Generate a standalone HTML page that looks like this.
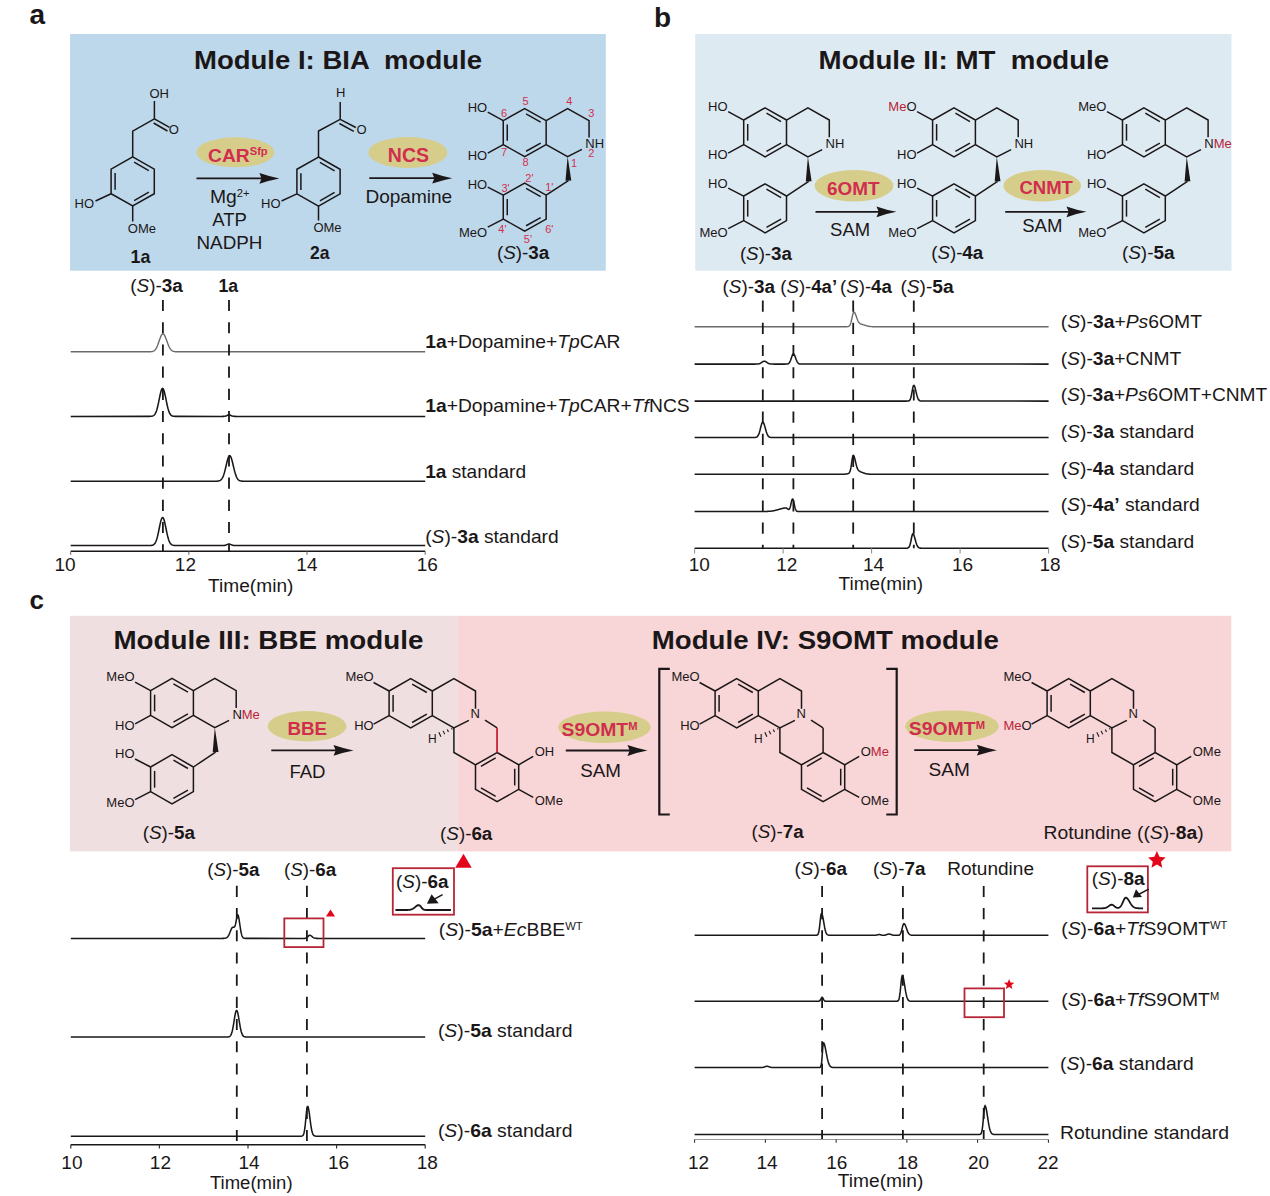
<!DOCTYPE html>
<html><head><meta charset="utf-8"><style>
html,body{margin:0;padding:0;background:#fff;}
svg{display:block;} text{white-space:pre;}
</style></head><body>
<svg width="1270" height="1196" viewBox="0 0 1270 1196" font-family="'Liberation Sans', sans-serif">
<rect width="1270" height="1196" fill="#ffffff"/>
<rect x="70" y="34" width="535.8" height="236.7" fill="#bed8eb"/>
<rect x="695.2" y="34" width="536.3" height="236.7" fill="#deeaf2"/>
<rect x="70" y="615.8" width="387.3" height="235.6" fill="#f0dfe1"/>
<rect x="457.3" y="615.8" width="774" height="235.6" fill="#f8d5d7"/>
<text x="29.5" y="24.0" font-size="28" text-anchor="start" fill="#1b1718" ><tspan font-weight="bold">a</tspan></text>
<text x="654.0" y="26.5" font-size="28" text-anchor="start" fill="#1b1718" ><tspan font-weight="bold">b</tspan></text>
<text x="29.5" y="609.0" font-size="26" text-anchor="start" fill="#1b1718" ><tspan font-weight="bold">c</tspan></text>
<text x="194.0" y="68.5" font-size="26" text-anchor="start" fill="#1b1718" textLength="288.0" lengthAdjust="spacingAndGlyphs" ><tspan font-weight="bold">Module I: BIA  module</tspan></text>
<text x="818.6" y="68.6" font-size="26" text-anchor="start" fill="#1b1718" textLength="290.6" lengthAdjust="spacingAndGlyphs" ><tspan font-weight="bold">Module II: MT  module</tspan></text>
<text x="113.4" y="648.6" font-size="26" text-anchor="start" fill="#1b1718" textLength="310.0" lengthAdjust="spacingAndGlyphs" ><tspan font-weight="bold">Module III: BBE module</tspan></text>
<text x="651.8" y="649.0" font-size="26" text-anchor="start" fill="#1b1718" textLength="347.0" lengthAdjust="spacingAndGlyphs" ><tspan font-weight="bold">Module IV: S9OMT module</tspan></text>
<polygon points="132.70,156.80 154.30,169.10 154.30,193.70 132.70,206.00 111.10,193.70 111.10,169.10" fill="none" stroke="#1b1718" stroke-width="1.5" stroke-linejoin="miter"/>
<line x1="115.10" y1="173.04" x2="115.10" y2="189.76" stroke="#1b1718" stroke-width="1.5" />
<line x1="134.14" y1="162.22" x2="148.82" y2="170.58" stroke="#1b1718" stroke-width="1.5" />
<line x1="148.82" y1="192.22" x2="134.14" y2="200.58" stroke="#1b1718" stroke-width="1.5" />
<polyline points="132.70,156.80 132.70,131.20 154.40,118.80 154.40,101.00" fill="none" stroke="#1b1718" stroke-width="1.5" stroke-linejoin="miter" />
<line x1="154.40" y1="118.80" x2="169.50" y2="127.30" stroke="#1b1718" stroke-width="1.5" />
<line x1="153.60" y1="123.00" x2="167.50" y2="131.00" stroke="#1b1718" stroke-width="1.5" />
<text x="149.5" y="97.5" font-size="13" text-anchor="start" fill="#1b1718" ><tspan >OH</tspan></text>
<text x="168.8" y="134.2" font-size="13" text-anchor="start" fill="#1b1718" ><tspan >O</tspan></text>
<line x1="111.10" y1="193.70" x2="95.50" y2="201.00" stroke="#1b1718" stroke-width="1.5" />
<text x="74.5" y="208.2" font-size="13" text-anchor="start" fill="#1b1718" ><tspan >HO</tspan></text>
<line x1="132.70" y1="206.00" x2="132.70" y2="221.50" stroke="#1b1718" stroke-width="1.5" />
<text x="127.8" y="232.6" font-size="13" text-anchor="start" fill="#1b1718" ><tspan >OMe</tspan></text>
<text x="130.6" y="263.0" font-size="18.5" text-anchor="start" fill="#1b1718" textLength="19.8" lengthAdjust="spacingAndGlyphs" ><tspan font-weight="bold">1a</tspan></text>
<line x1="196.50" y1="178.40" x2="263.40" y2="178.40" stroke="#1b1718" stroke-width="1.8" />
<path d="M279.40,178.40 Q270.40,176.80 259.40,173.00 L261.60,178.40 L259.40,183.80 Q270.40,180.00 279.40,178.40 Z" fill="#1b1718"/>
<ellipse cx="235.4" cy="152.3" rx="39" ry="15" fill="#d7cd8a"/>
<text x="208.0" y="161.8" font-size="19" text-anchor="start" fill="#1b1718" textLength="59.7" lengthAdjust="spacingAndGlyphs" ><tspan font-weight="bold" fill="#d02d50">CAR</tspan><tspan font-weight="bold" fill="#d02d50" font-size="11.0" dy="-6.5">Sfp</tspan></text>
<text x="210.0" y="203.3" font-size="18.5" text-anchor="start" fill="#1b1718" textLength="39.6" lengthAdjust="spacingAndGlyphs" ><tspan >Mg</tspan><tspan font-size="10.7" dy="-6.3">2+</tspan></text>
<text x="229.5" y="225.6" font-size="18.5" text-anchor="middle" fill="#1b1718" ><tspan >ATP</tspan></text>
<text x="196.5" y="249.0" font-size="18.5" text-anchor="start" fill="#1b1718" textLength="65.9" lengthAdjust="spacingAndGlyphs" ><tspan >NADPH</tspan></text>
<polygon points="318.50,157.00 340.10,169.30 340.10,193.90 318.50,206.20 296.90,193.90 296.90,169.30" fill="none" stroke="#1b1718" stroke-width="1.5" stroke-linejoin="miter"/>
<line x1="300.90" y1="173.24" x2="300.90" y2="189.96" stroke="#1b1718" stroke-width="1.5" />
<line x1="319.94" y1="162.42" x2="334.62" y2="170.78" stroke="#1b1718" stroke-width="1.5" />
<line x1="334.62" y1="192.42" x2="319.94" y2="200.78" stroke="#1b1718" stroke-width="1.5" />
<polyline points="318.50,157.00 318.50,131.00 340.20,119.30 340.20,102.00" fill="none" stroke="#1b1718" stroke-width="1.5" stroke-linejoin="miter" />
<line x1="340.20" y1="119.30" x2="355.80" y2="127.50" stroke="#1b1718" stroke-width="1.5" />
<line x1="339.40" y1="123.50" x2="353.80" y2="131.30" stroke="#1b1718" stroke-width="1.5" />
<text x="336.0" y="96.6" font-size="13" text-anchor="start" fill="#1b1718" ><tspan >H</tspan></text>
<text x="356.5" y="134.2" font-size="13" text-anchor="start" fill="#1b1718" ><tspan >O</tspan></text>
<line x1="296.90" y1="193.90" x2="281.50" y2="201.00" stroke="#1b1718" stroke-width="1.5" />
<text x="261.0" y="208.0" font-size="13" text-anchor="start" fill="#1b1718" ><tspan >HO</tspan></text>
<line x1="318.50" y1="206.20" x2="318.50" y2="220.50" stroke="#1b1718" stroke-width="1.5" />
<text x="313.4" y="232.4" font-size="13" text-anchor="start" fill="#1b1718" ><tspan >OMe</tspan></text>
<text x="310.0" y="258.8" font-size="18.5" text-anchor="start" fill="#1b1718" textLength="19.5" lengthAdjust="spacingAndGlyphs" ><tspan font-weight="bold">2a</tspan></text>
<line x1="369.30" y1="178.20" x2="436.20" y2="178.20" stroke="#1b1718" stroke-width="1.8" />
<path d="M452.20,178.20 Q443.20,176.60 432.20,172.80 L434.40,178.20 L432.20,183.60 Q443.20,179.80 452.20,178.20 Z" fill="#1b1718"/>
<ellipse cx="407.9" cy="152.5" rx="39.5" ry="15.5" fill="#d7cd8a"/>
<text x="387.8" y="162.1" font-size="19.5" text-anchor="start" fill="#1b1718" textLength="41.2" lengthAdjust="spacingAndGlyphs" ><tspan font-weight="bold" fill="#d02d50">NCS</tspan></text>
<text x="365.4" y="203.2" font-size="18.5" text-anchor="start" fill="#1b1718" textLength="86.8" lengthAdjust="spacingAndGlyphs" ><tspan >Dopamine</tspan></text>
<polygon points="524.70,108.60 546.15,120.60 546.15,144.60 524.70,156.60 503.25,144.60 503.25,120.60" fill="none" stroke="#1b1718" stroke-width="1.5" stroke-linejoin="miter"/>
<line x1="507.25" y1="124.44" x2="507.25" y2="140.76" stroke="#1b1718" stroke-width="1.5" />
<line x1="526.08" y1="113.96" x2="540.67" y2="122.12" stroke="#1b1718" stroke-width="1.5" />
<line x1="540.67" y1="143.08" x2="526.08" y2="151.24" stroke="#1b1718" stroke-width="1.5" />
<polyline points="546.15,120.60 567.60,108.60 589.05,120.60 589.05,137.40" fill="none" stroke="#1b1718" stroke-width="1.5" stroke-linejoin="miter" />
<polyline points="546.15,144.60 567.60,156.60 581.90,149.40" fill="none" stroke="#1b1718" stroke-width="1.5" stroke-linejoin="miter" />
<polygon points="567.60,156.60 565.50,180.70 571.30,180.50" fill="#1b1718" />
<polygon points="524.70,183.10 546.15,195.10 546.15,219.10 524.70,231.10 503.25,219.10 503.25,195.10" fill="none" stroke="#1b1718" stroke-width="1.5" stroke-linejoin="miter"/>
<line x1="568.40" y1="180.60" x2="546.15" y2="195.10" stroke="#1b1718" stroke-width="1.5" />
<line x1="507.25" y1="198.94" x2="507.25" y2="215.26" stroke="#1b1718" stroke-width="1.5" />
<line x1="526.08" y1="188.46" x2="540.67" y2="196.62" stroke="#1b1718" stroke-width="1.5" />
<line x1="540.67" y1="217.58" x2="526.08" y2="225.74" stroke="#1b1718" stroke-width="1.5" />
<line x1="503.25" y1="120.60" x2="487.75" y2="112.10" stroke="#1b1718" stroke-width="1.5" />
<line x1="503.25" y1="144.60" x2="487.75" y2="153.10" stroke="#1b1718" stroke-width="1.5" />
<line x1="503.25" y1="195.10" x2="487.75" y2="187.10" stroke="#1b1718" stroke-width="1.5" />
<line x1="503.25" y1="219.10" x2="487.75" y2="227.10" stroke="#1b1718" stroke-width="1.5" />
<text x="487.2" y="111.6" font-size="13" text-anchor="end" fill="#1b1718" ><tspan >HO</tspan></text>
<text x="487.2" y="160.1" font-size="13" text-anchor="end" fill="#1b1718" ><tspan >HO</tspan></text>
<text x="487.2" y="188.6" font-size="13" text-anchor="end" fill="#1b1718" ><tspan >HO</tspan></text>
<text x="487.2" y="237.4" font-size="13" text-anchor="end" fill="#1b1718" ><tspan >MeO</tspan></text>
<text x="585.3" y="147.8" font-size="13" text-anchor="start" fill="#1b1718" ><tspan >NH</tspan></text>
<text x="496.9" y="258.7" font-size="17.5" text-anchor="start" fill="#1b1718" textLength="52.4" lengthAdjust="spacingAndGlyphs" ><tspan >(</tspan><tspan font-style="italic">S</tspan><tspan >)-</tspan><tspan font-weight="bold">3a</tspan></text>
<text x="525.5" y="104.6" font-size="11" text-anchor="middle" fill="#d22f4e" ><tspan >5</tspan></text>
<text x="569.2" y="104.6" font-size="11" text-anchor="middle" fill="#d22f4e" ><tspan >4</tspan></text>
<text x="591.4" y="117.3" font-size="11" text-anchor="middle" fill="#d22f4e" ><tspan >3</tspan></text>
<text x="504.0" y="116.5" font-size="11" text-anchor="middle" fill="#d22f4e" ><tspan >6</tspan></text>
<text x="504.0" y="156.3" font-size="11" text-anchor="middle" fill="#d22f4e" ><tspan >7</tspan></text>
<text x="525.5" y="165.8" font-size="11" text-anchor="middle" fill="#d22f4e" ><tspan >8</tspan></text>
<text x="591.4" y="157.0" font-size="11" text-anchor="middle" fill="#d22f4e" ><tspan >2</tspan></text>
<text x="574.0" y="166.6" font-size="11" text-anchor="middle" fill="#d22f4e" ><tspan >1</tspan></text>
<text x="529.4" y="181.7" font-size="11" text-anchor="middle" fill="#d22f4e" ><tspan >2'</tspan></text>
<text x="549.3" y="191.2" font-size="11" text-anchor="middle" fill="#d22f4e" ><tspan >1'</tspan></text>
<text x="505.6" y="192.0" font-size="11" text-anchor="middle" fill="#d22f4e" ><tspan >3'</tspan></text>
<text x="549.3" y="232.5" font-size="11" text-anchor="middle" fill="#d22f4e" ><tspan >6'</tspan></text>
<text x="502.4" y="233.3" font-size="11" text-anchor="middle" fill="#d22f4e" ><tspan >4'</tspan></text>
<text x="527.9" y="242.9" font-size="11" text-anchor="middle" fill="#d22f4e" ><tspan >5'</tspan></text>
<polygon points="765.10,107.80 786.50,120.05 786.50,144.55 765.10,156.80 743.70,144.55 743.70,120.05" fill="none" stroke="#1b1718" stroke-width="1.5" stroke-linejoin="miter"/>
<line x1="747.70" y1="123.97" x2="747.70" y2="140.63" stroke="#1b1718" stroke-width="1.5" />
<line x1="766.51" y1="113.22" x2="781.06" y2="121.55" stroke="#1b1718" stroke-width="1.5" />
<line x1="781.06" y1="143.05" x2="766.51" y2="151.38" stroke="#1b1718" stroke-width="1.5" />
<polyline points="786.50,120.05 807.90,107.80 829.30,120.05 829.30,137.20" fill="none" stroke="#1b1718" stroke-width="1.5" stroke-linejoin="miter" />
<polyline points="786.50,144.55 807.90,156.80 822.20,149.60" fill="none" stroke="#1b1718" stroke-width="1.5" stroke-linejoin="miter" />
<polygon points="807.90,156.80 805.80,181.39 811.60,181.21" fill="#1b1718" />
<polygon points="765.10,183.80 786.50,196.05 786.50,220.55 765.10,232.80 743.70,220.55 743.70,196.05" fill="none" stroke="#1b1718" stroke-width="1.5" stroke-linejoin="miter"/>
<line x1="808.70" y1="181.30" x2="786.50" y2="196.05" stroke="#1b1718" stroke-width="1.5" />
<line x1="747.70" y1="199.97" x2="747.70" y2="216.63" stroke="#1b1718" stroke-width="1.5" />
<line x1="766.51" y1="189.22" x2="781.06" y2="197.55" stroke="#1b1718" stroke-width="1.5" />
<line x1="781.06" y1="219.05" x2="766.51" y2="227.38" stroke="#1b1718" stroke-width="1.5" />
<line x1="743.70" y1="120.05" x2="728.20" y2="111.55" stroke="#1b1718" stroke-width="1.5" />
<line x1="743.70" y1="144.55" x2="728.20" y2="153.05" stroke="#1b1718" stroke-width="1.5" />
<line x1="743.70" y1="196.05" x2="728.20" y2="188.05" stroke="#1b1718" stroke-width="1.5" />
<line x1="743.70" y1="220.55" x2="728.20" y2="228.55" stroke="#1b1718" stroke-width="1.5" />
<text x="727.6" y="110.8" font-size="13" text-anchor="end" fill="#1b1718" ><tspan >HO</tspan></text>
<text x="727.6" y="159.3" font-size="13" text-anchor="end" fill="#1b1718" ><tspan >HO</tspan></text>
<text x="727.6" y="187.8" font-size="13" text-anchor="end" fill="#1b1718" ><tspan >HO</tspan></text>
<text x="727.6" y="236.6" font-size="13" text-anchor="end" fill="#1b1718" ><tspan >MeO</tspan></text>
<text x="825.5" y="147.8" font-size="13" text-anchor="start" fill="#1b1718" ><tspan >NH</tspan></text>
<text x="739.9" y="259.8" font-size="17.5" text-anchor="start" fill="#1b1718" textLength="52.0" lengthAdjust="spacingAndGlyphs" ><tspan >(</tspan><tspan font-style="italic">S</tspan><tspan >)-</tspan><tspan font-weight="bold">3a</tspan></text>
<polygon points="954.00,107.80 975.40,120.05 975.40,144.55 954.00,156.80 932.60,144.55 932.60,120.05" fill="none" stroke="#1b1718" stroke-width="1.5" stroke-linejoin="miter"/>
<line x1="936.60" y1="123.97" x2="936.60" y2="140.63" stroke="#1b1718" stroke-width="1.5" />
<line x1="955.41" y1="113.22" x2="969.96" y2="121.55" stroke="#1b1718" stroke-width="1.5" />
<line x1="969.96" y1="143.05" x2="955.41" y2="151.38" stroke="#1b1718" stroke-width="1.5" />
<polyline points="975.40,120.05 996.80,107.80 1018.20,120.05 1018.20,137.20" fill="none" stroke="#1b1718" stroke-width="1.5" stroke-linejoin="miter" />
<polyline points="975.40,144.55 996.80,156.80 1011.10,149.60" fill="none" stroke="#1b1718" stroke-width="1.5" stroke-linejoin="miter" />
<polygon points="996.80,156.80 994.70,181.39 1000.50,181.21" fill="#1b1718" />
<polygon points="954.00,183.80 975.40,196.05 975.40,220.55 954.00,232.80 932.60,220.55 932.60,196.05" fill="none" stroke="#1b1718" stroke-width="1.5" stroke-linejoin="miter"/>
<line x1="997.60" y1="181.30" x2="975.40" y2="196.05" stroke="#1b1718" stroke-width="1.5" />
<line x1="936.60" y1="199.97" x2="936.60" y2="216.63" stroke="#1b1718" stroke-width="1.5" />
<line x1="955.41" y1="189.22" x2="969.96" y2="197.55" stroke="#1b1718" stroke-width="1.5" />
<line x1="969.96" y1="219.05" x2="955.41" y2="227.38" stroke="#1b1718" stroke-width="1.5" />
<line x1="932.60" y1="120.05" x2="917.10" y2="111.55" stroke="#1b1718" stroke-width="1.5" />
<line x1="932.60" y1="144.55" x2="917.10" y2="153.05" stroke="#1b1718" stroke-width="1.5" />
<line x1="932.60" y1="196.05" x2="917.10" y2="188.05" stroke="#1b1718" stroke-width="1.5" />
<line x1="932.60" y1="220.55" x2="917.10" y2="228.55" stroke="#1b1718" stroke-width="1.5" />
<text x="916.5" y="110.8" font-size="13" text-anchor="end" fill="#1b1718" ><tspan fill="#b82537">Me</tspan><tspan >O</tspan></text>
<text x="916.5" y="159.3" font-size="13" text-anchor="end" fill="#1b1718" ><tspan >HO</tspan></text>
<text x="916.5" y="187.8" font-size="13" text-anchor="end" fill="#1b1718" ><tspan >HO</tspan></text>
<text x="916.5" y="236.6" font-size="13" text-anchor="end" fill="#1b1718" ><tspan >MeO</tspan></text>
<text x="1014.4" y="147.8" font-size="13" text-anchor="start" fill="#1b1718" ><tspan >NH</tspan></text>
<text x="931.2" y="259.0" font-size="17.5" text-anchor="start" fill="#1b1718" textLength="52.0" lengthAdjust="spacingAndGlyphs" ><tspan >(</tspan><tspan font-style="italic">S</tspan><tspan >)-</tspan><tspan font-weight="bold">4a</tspan></text>
<polygon points="1143.90,107.80 1165.30,120.05 1165.30,144.55 1143.90,156.80 1122.50,144.55 1122.50,120.05" fill="none" stroke="#1b1718" stroke-width="1.5" stroke-linejoin="miter"/>
<line x1="1126.50" y1="123.97" x2="1126.50" y2="140.63" stroke="#1b1718" stroke-width="1.5" />
<line x1="1145.31" y1="113.22" x2="1159.86" y2="121.55" stroke="#1b1718" stroke-width="1.5" />
<line x1="1159.86" y1="143.05" x2="1145.31" y2="151.38" stroke="#1b1718" stroke-width="1.5" />
<polyline points="1165.30,120.05 1186.70,107.80 1208.10,120.05 1208.10,137.20" fill="none" stroke="#1b1718" stroke-width="1.5" stroke-linejoin="miter" />
<polyline points="1165.30,144.55 1186.70,156.80 1201.00,149.60" fill="none" stroke="#1b1718" stroke-width="1.5" stroke-linejoin="miter" />
<polygon points="1186.70,156.80 1184.60,181.39 1190.40,181.21" fill="#1b1718" />
<polygon points="1143.90,183.80 1165.30,196.05 1165.30,220.55 1143.90,232.80 1122.50,220.55 1122.50,196.05" fill="none" stroke="#1b1718" stroke-width="1.5" stroke-linejoin="miter"/>
<line x1="1187.50" y1="181.30" x2="1165.30" y2="196.05" stroke="#1b1718" stroke-width="1.5" />
<line x1="1126.50" y1="199.97" x2="1126.50" y2="216.63" stroke="#1b1718" stroke-width="1.5" />
<line x1="1145.31" y1="189.22" x2="1159.86" y2="197.55" stroke="#1b1718" stroke-width="1.5" />
<line x1="1159.86" y1="219.05" x2="1145.31" y2="227.38" stroke="#1b1718" stroke-width="1.5" />
<line x1="1122.50" y1="120.05" x2="1107.00" y2="111.55" stroke="#1b1718" stroke-width="1.5" />
<line x1="1122.50" y1="144.55" x2="1107.00" y2="153.05" stroke="#1b1718" stroke-width="1.5" />
<line x1="1122.50" y1="196.05" x2="1107.00" y2="188.05" stroke="#1b1718" stroke-width="1.5" />
<line x1="1122.50" y1="220.55" x2="1107.00" y2="228.55" stroke="#1b1718" stroke-width="1.5" />
<text x="1106.4" y="110.8" font-size="13" text-anchor="end" fill="#1b1718" ><tspan >MeO</tspan></text>
<text x="1106.4" y="159.3" font-size="13" text-anchor="end" fill="#1b1718" ><tspan >HO</tspan></text>
<text x="1106.4" y="187.8" font-size="13" text-anchor="end" fill="#1b1718" ><tspan >HO</tspan></text>
<text x="1106.4" y="236.6" font-size="13" text-anchor="end" fill="#1b1718" ><tspan >MeO</tspan></text>
<text x="1204.3" y="147.8" font-size="13" text-anchor="start" fill="#1b1718" ><tspan >N</tspan><tspan fill="#b82537">Me</tspan></text>
<text x="1121.9" y="259.0" font-size="17.5" text-anchor="start" fill="#1b1718" textLength="52.7" lengthAdjust="spacingAndGlyphs" ><tspan >(</tspan><tspan font-style="italic">S</tspan><tspan >)-</tspan><tspan font-weight="bold">5a</tspan></text>
<ellipse cx="854" cy="185.8" rx="39.4" ry="15.7" fill="#d7cd8a"/>
<text x="827.0" y="195.2" font-size="18" text-anchor="start" fill="#1b1718" textLength="52.6" lengthAdjust="spacingAndGlyphs" ><tspan font-weight="bold" fill="#d02d50">6OMT</tspan></text>
<line x1="815.50" y1="211.80" x2="880.50" y2="211.80" stroke="#1b1718" stroke-width="1.8" />
<path d="M896.50,211.80 Q887.50,210.20 876.50,206.40 L878.70,211.80 L876.50,217.20 Q887.50,213.40 896.50,211.80 Z" fill="#1b1718"/>
<text x="830.1" y="236.2" font-size="18" text-anchor="start" fill="#1b1718" textLength="40.0" lengthAdjust="spacingAndGlyphs" ><tspan >SAM</tspan></text>
<ellipse cx="1042.2" cy="185.8" rx="38.8" ry="15.7" fill="#d7cd8a"/>
<text x="1019.4" y="193.9" font-size="18" text-anchor="start" fill="#1b1718" textLength="53.5" lengthAdjust="spacingAndGlyphs" ><tspan font-weight="bold" fill="#d02d50">CNMT</tspan></text>
<line x1="1005.20" y1="211.80" x2="1070.50" y2="211.80" stroke="#1b1718" stroke-width="1.8" />
<path d="M1086.50,211.80 Q1077.50,210.20 1066.50,206.40 L1068.70,211.80 L1066.50,217.20 Q1077.50,213.40 1086.50,211.80 Z" fill="#1b1718"/>
<text x="1022.2" y="232.2" font-size="18" text-anchor="start" fill="#1b1718" textLength="40.2" lengthAdjust="spacingAndGlyphs" ><tspan >SAM</tspan></text>
<polygon points="172.00,678.40 193.40,690.70 193.40,715.30 172.00,727.60 150.60,715.30 150.60,690.70" fill="none" stroke="#1b1718" stroke-width="1.5" stroke-linejoin="miter"/>
<line x1="154.60" y1="694.64" x2="154.60" y2="711.36" stroke="#1b1718" stroke-width="1.5" />
<line x1="173.42" y1="683.83" x2="187.97" y2="692.19" stroke="#1b1718" stroke-width="1.5" />
<line x1="187.97" y1="713.81" x2="173.42" y2="722.17" stroke="#1b1718" stroke-width="1.5" />
<polyline points="193.40,690.70 214.80,678.40 236.20,690.70 236.20,707.92" fill="none" stroke="#1b1718" stroke-width="1.5" stroke-linejoin="miter" />
<polyline points="193.40,715.30 214.80,727.60 229.10,720.40" fill="none" stroke="#1b1718" stroke-width="1.5" stroke-linejoin="miter" />
<polygon points="214.80,727.60 212.70,752.29 218.50,752.11" fill="#1b1718" />
<polygon points="172.00,754.70 193.40,767.00 193.40,791.60 172.00,803.90 150.60,791.60 150.60,767.00" fill="none" stroke="#1b1718" stroke-width="1.5" stroke-linejoin="miter"/>
<line x1="215.60" y1="752.20" x2="193.40" y2="767.00" stroke="#1b1718" stroke-width="1.5" />
<line x1="154.60" y1="770.94" x2="154.60" y2="787.66" stroke="#1b1718" stroke-width="1.5" />
<line x1="173.42" y1="760.13" x2="187.97" y2="768.49" stroke="#1b1718" stroke-width="1.5" />
<line x1="187.97" y1="790.11" x2="173.42" y2="798.47" stroke="#1b1718" stroke-width="1.5" />
<line x1="150.60" y1="690.70" x2="135.10" y2="682.20" stroke="#1b1718" stroke-width="1.5" />
<line x1="150.60" y1="715.30" x2="135.10" y2="723.80" stroke="#1b1718" stroke-width="1.5" />
<line x1="150.60" y1="767.00" x2="135.10" y2="759.00" stroke="#1b1718" stroke-width="1.5" />
<line x1="150.60" y1="791.60" x2="135.10" y2="799.60" stroke="#1b1718" stroke-width="1.5" />
<text x="134.5" y="681.4" font-size="13" text-anchor="end" fill="#1b1718" ><tspan >MeO</tspan></text>
<text x="134.5" y="729.9" font-size="13" text-anchor="end" fill="#1b1718" ><tspan >HO</tspan></text>
<text x="134.5" y="758.4" font-size="13" text-anchor="end" fill="#1b1718" ><tspan >HO</tspan></text>
<text x="134.5" y="807.2" font-size="13" text-anchor="end" fill="#1b1718" ><tspan >MeO</tspan></text>
<text x="232.4" y="718.5" font-size="13" text-anchor="start" fill="#1b1718" ><tspan >N</tspan><tspan fill="#b82537">Me</tspan></text>
<text x="142.7" y="839.0" font-size="17.5" text-anchor="start" fill="#1b1718" textLength="52.3" lengthAdjust="spacingAndGlyphs" ><tspan >(</tspan><tspan font-style="italic">S</tspan><tspan >)-</tspan><tspan font-weight="bold">5a</tspan></text>
<ellipse cx="307.1" cy="726.3" rx="39.4" ry="15.2" fill="#d7cd8a"/>
<text x="287.4" y="735.4" font-size="18" text-anchor="start" fill="#1b1718" textLength="39.8" lengthAdjust="spacingAndGlyphs" ><tspan font-weight="bold" fill="#d02d50">BBE</tspan></text>
<line x1="271.30" y1="750.40" x2="337.50" y2="750.40" stroke="#1b1718" stroke-width="1.8" />
<path d="M353.50,750.40 Q344.50,748.80 333.50,745.00 L335.70,750.40 L333.50,755.80 Q344.50,752.00 353.50,750.40 Z" fill="#1b1718"/>
<text x="289.4" y="777.8" font-size="18" text-anchor="start" fill="#1b1718" textLength="36.1" lengthAdjust="spacingAndGlyphs" ><tspan >FAD</tspan></text>
<polygon points="410.70,678.70 432.30,691.00 432.30,715.60 410.70,727.90 389.10,715.60 389.10,691.00" fill="none" stroke="#1b1718" stroke-width="1.5" stroke-linejoin="miter"/>
<line x1="393.10" y1="694.94" x2="393.10" y2="711.66" stroke="#1b1718" stroke-width="1.5" />
<line x1="412.14" y1="684.12" x2="426.82" y2="692.48" stroke="#1b1718" stroke-width="1.5" />
<line x1="426.82" y1="714.12" x2="412.14" y2="722.48" stroke="#1b1718" stroke-width="1.5" />
<polyline points="432.30,691.00 453.90,678.70 475.50,691.00 475.50,708.71" fill="none" stroke="#1b1718" stroke-width="1.5" stroke-linejoin="miter" />
<polyline points="432.30,715.60 453.90,727.90 468.90,720.30" fill="none" stroke="#1b1718" stroke-width="1.5" stroke-linejoin="miter" />
<polyline points="485.00,720.20 497.10,727.90" fill="none" stroke="#1b1718" stroke-width="1.5" stroke-linejoin="miter" />
<line x1="497.10" y1="727.90" x2="497.10" y2="752.50" stroke="#c8283c" stroke-width="1.5" />
<polygon points="497.10,752.50 518.70,764.80 518.70,789.40 497.10,801.70 475.50,789.40 475.50,764.80" fill="none" stroke="#1b1718" stroke-width="1.5" stroke-linejoin="miter"/>
<line x1="497.10" y1="727.90" x2="497.10" y2="752.50" stroke="#c8283c" stroke-width="1.5" />
<polyline points="453.90,727.90 453.90,752.50 475.50,764.80" fill="none" stroke="#1b1718" stroke-width="1.5" stroke-linejoin="miter" />
<line x1="495.66" y1="757.92" x2="480.98" y2="766.28" stroke="#1b1718" stroke-width="1.5" />
<line x1="514.70" y1="768.74" x2="514.70" y2="785.46" stroke="#1b1718" stroke-width="1.5" />
<line x1="495.66" y1="796.28" x2="480.98" y2="787.92" stroke="#1b1718" stroke-width="1.5" />
<line x1="451.57" y1="728.13" x2="452.23" y2="729.54" stroke="#1b1718" stroke-width="1.1" />
<line x1="447.33" y1="729.50" x2="448.47" y2="731.93" stroke="#1b1718" stroke-width="1.1" />
<line x1="443.09" y1="730.86" x2="444.71" y2="734.31" stroke="#1b1718" stroke-width="1.1" />
<line x1="438.85" y1="732.23" x2="440.95" y2="736.70" stroke="#1b1718" stroke-width="1.1" />
<text x="427.9" y="742.7" font-size="12" text-anchor="start" fill="#1b1718" ><tspan >H</tspan></text>
<line x1="389.10" y1="691.00" x2="373.60" y2="682.50" stroke="#1b1718" stroke-width="1.5" />
<line x1="389.10" y1="715.60" x2="373.60" y2="724.10" stroke="#1b1718" stroke-width="1.5" />
<line x1="518.70" y1="764.80" x2="533.20" y2="756.30" stroke="#1b1718" stroke-width="1.5" />
<line x1="518.70" y1="789.40" x2="533.20" y2="797.40" stroke="#1b1718" stroke-width="1.5" />
<text x="373.7" y="681.2" font-size="13" text-anchor="end" fill="#1b1718" ><tspan >MeO</tspan></text>
<text x="373.7" y="730.2" font-size="13" text-anchor="end" fill="#1b1718" ><tspan >HO</tspan></text>
<text x="470.5" y="718.1" font-size="13" text-anchor="start" fill="#1b1718" ><tspan >N</tspan></text>
<text x="534.7" y="755.8" font-size="13" text-anchor="start" fill="#1b1718" ><tspan >OH</tspan></text>
<text x="534.7" y="804.9" font-size="13" text-anchor="start" fill="#1b1718" ><tspan >OMe</tspan></text>
<text x="440.1" y="839.8" font-size="17.5" text-anchor="start" fill="#1b1718" textLength="52.2" lengthAdjust="spacingAndGlyphs" ><tspan >(</tspan><tspan font-style="italic">S</tspan><tspan >)-</tspan><tspan font-weight="bold">6a</tspan></text>
<ellipse cx="604.5" cy="727.3" rx="46.3" ry="15.7" fill="#d7cd8a"/>
<text x="561.5" y="735.6" font-size="18" text-anchor="start" fill="#1b1718" textLength="76.0" lengthAdjust="spacingAndGlyphs" ><tspan font-weight="bold" fill="#d02d50">S9OMT</tspan><tspan font-weight="bold" fill="#d02d50" font-size="10.4" dy="-6.1">M</tspan></text>
<line x1="565.80" y1="750.50" x2="631.50" y2="750.50" stroke="#1b1718" stroke-width="1.8" />
<path d="M647.50,750.50 Q638.50,748.90 627.50,745.10 L629.70,750.50 L627.50,755.90 Q638.50,752.10 647.50,750.50 Z" fill="#1b1718"/>
<text x="580.3" y="776.9" font-size="18" text-anchor="start" fill="#1b1718" textLength="40.7" lengthAdjust="spacingAndGlyphs" ><tspan >SAM</tspan></text>
<polyline points="669.80,668.90 659.30,668.90 659.30,814.50 669.80,814.50" fill="none" stroke="#1b1718" stroke-width="2.2" stroke-linejoin="miter" />
<polyline points="886.30,668.90 896.70,668.90 896.70,814.50 886.30,814.50" fill="none" stroke="#1b1718" stroke-width="2.2" stroke-linejoin="miter" />
<polygon points="736.70,678.70 758.30,691.00 758.30,715.60 736.70,727.90 715.10,715.60 715.10,691.00" fill="none" stroke="#1b1718" stroke-width="1.5" stroke-linejoin="miter"/>
<line x1="719.10" y1="694.94" x2="719.10" y2="711.66" stroke="#1b1718" stroke-width="1.5" />
<line x1="738.14" y1="684.12" x2="752.82" y2="692.48" stroke="#1b1718" stroke-width="1.5" />
<line x1="752.82" y1="714.12" x2="738.14" y2="722.48" stroke="#1b1718" stroke-width="1.5" />
<polyline points="758.30,691.00 779.90,678.70 801.50,691.00 801.50,708.71" fill="none" stroke="#1b1718" stroke-width="1.5" stroke-linejoin="miter" />
<polyline points="758.30,715.60 779.90,727.90 794.90,720.30" fill="none" stroke="#1b1718" stroke-width="1.5" stroke-linejoin="miter" />
<polyline points="811.00,720.20 823.10,727.90" fill="none" stroke="#1b1718" stroke-width="1.5" stroke-linejoin="miter" />
<line x1="823.10" y1="727.90" x2="823.10" y2="752.50" stroke="#1b1718" stroke-width="1.5" />
<polygon points="823.10,752.50 844.70,764.80 844.70,789.40 823.10,801.70 801.50,789.40 801.50,764.80" fill="none" stroke="#1b1718" stroke-width="1.5" stroke-linejoin="miter"/>
<polyline points="779.90,727.90 779.90,752.50 801.50,764.80" fill="none" stroke="#1b1718" stroke-width="1.5" stroke-linejoin="miter" />
<line x1="821.66" y1="757.92" x2="806.98" y2="766.28" stroke="#1b1718" stroke-width="1.5" />
<line x1="840.70" y1="768.74" x2="840.70" y2="785.46" stroke="#1b1718" stroke-width="1.5" />
<line x1="821.66" y1="796.28" x2="806.98" y2="787.92" stroke="#1b1718" stroke-width="1.5" />
<line x1="777.57" y1="728.13" x2="778.23" y2="729.54" stroke="#1b1718" stroke-width="1.1" />
<line x1="773.33" y1="729.50" x2="774.47" y2="731.93" stroke="#1b1718" stroke-width="1.1" />
<line x1="769.09" y1="730.86" x2="770.71" y2="734.31" stroke="#1b1718" stroke-width="1.1" />
<line x1="764.85" y1="732.23" x2="766.95" y2="736.70" stroke="#1b1718" stroke-width="1.1" />
<text x="753.9" y="742.7" font-size="12" text-anchor="start" fill="#1b1718" ><tspan >H</tspan></text>
<line x1="715.10" y1="691.00" x2="699.60" y2="682.50" stroke="#1b1718" stroke-width="1.5" />
<line x1="715.10" y1="715.60" x2="699.60" y2="724.10" stroke="#1b1718" stroke-width="1.5" />
<line x1="844.70" y1="764.80" x2="859.20" y2="756.30" stroke="#1b1718" stroke-width="1.5" />
<line x1="844.70" y1="789.40" x2="859.20" y2="797.40" stroke="#1b1718" stroke-width="1.5" />
<text x="699.7" y="681.2" font-size="13" text-anchor="end" fill="#1b1718" ><tspan >MeO</tspan></text>
<text x="699.7" y="730.2" font-size="13" text-anchor="end" fill="#1b1718" ><tspan >HO</tspan></text>
<text x="796.5" y="718.1" font-size="13" text-anchor="start" fill="#1b1718" ><tspan >N</tspan></text>
<text x="860.7" y="755.8" font-size="13" text-anchor="start" fill="#1b1718" ><tspan >O</tspan><tspan fill="#b82537">Me</tspan></text>
<text x="860.7" y="804.9" font-size="13" text-anchor="start" fill="#1b1718" ><tspan >OMe</tspan></text>
<text x="751.5" y="838.1" font-size="17.5" text-anchor="start" fill="#1b1718" textLength="52.1" lengthAdjust="spacingAndGlyphs" ><tspan >(</tspan><tspan font-style="italic">S</tspan><tspan >)-</tspan><tspan font-weight="bold">7a</tspan></text>
<ellipse cx="952" cy="726.2" rx="46.8" ry="15.8" fill="#d7cd8a"/>
<text x="908.7" y="735.0" font-size="18" text-anchor="start" fill="#1b1718" textLength="76.3" lengthAdjust="spacingAndGlyphs" ><tspan font-weight="bold" fill="#d02d50">S9OMT</tspan><tspan font-weight="bold" fill="#d02d50" font-size="10.4" dy="-6.1">M</tspan></text>
<line x1="914.20" y1="750.20" x2="980.90" y2="750.20" stroke="#1b1718" stroke-width="1.8" />
<path d="M996.90,750.20 Q987.90,748.60 976.90,744.80 L979.10,750.20 L976.90,755.60 Q987.90,751.80 996.90,750.20 Z" fill="#1b1718"/>
<text x="928.6" y="776.4" font-size="18" text-anchor="start" fill="#1b1718" textLength="41.3" lengthAdjust="spacingAndGlyphs" ><tspan >SAM</tspan></text>
<polygon points="1068.70,678.70 1090.30,691.00 1090.30,715.60 1068.70,727.90 1047.10,715.60 1047.10,691.00" fill="none" stroke="#1b1718" stroke-width="1.5" stroke-linejoin="miter"/>
<line x1="1051.10" y1="694.94" x2="1051.10" y2="711.66" stroke="#1b1718" stroke-width="1.5" />
<line x1="1070.14" y1="684.12" x2="1084.82" y2="692.48" stroke="#1b1718" stroke-width="1.5" />
<line x1="1084.82" y1="714.12" x2="1070.14" y2="722.48" stroke="#1b1718" stroke-width="1.5" />
<polyline points="1090.30,691.00 1111.90,678.70 1133.50,691.00 1133.50,708.71" fill="none" stroke="#1b1718" stroke-width="1.5" stroke-linejoin="miter" />
<polyline points="1090.30,715.60 1111.90,727.90 1126.90,720.30" fill="none" stroke="#1b1718" stroke-width="1.5" stroke-linejoin="miter" />
<polyline points="1143.00,720.20 1155.10,727.90" fill="none" stroke="#1b1718" stroke-width="1.5" stroke-linejoin="miter" />
<line x1="1155.10" y1="727.90" x2="1155.10" y2="752.50" stroke="#1b1718" stroke-width="1.5" />
<polygon points="1155.10,752.50 1176.70,764.80 1176.70,789.40 1155.10,801.70 1133.50,789.40 1133.50,764.80" fill="none" stroke="#1b1718" stroke-width="1.5" stroke-linejoin="miter"/>
<polyline points="1111.90,727.90 1111.90,752.50 1133.50,764.80" fill="none" stroke="#1b1718" stroke-width="1.5" stroke-linejoin="miter" />
<line x1="1153.66" y1="757.92" x2="1138.98" y2="766.28" stroke="#1b1718" stroke-width="1.5" />
<line x1="1172.70" y1="768.74" x2="1172.70" y2="785.46" stroke="#1b1718" stroke-width="1.5" />
<line x1="1153.66" y1="796.28" x2="1138.98" y2="787.92" stroke="#1b1718" stroke-width="1.5" />
<line x1="1109.57" y1="728.13" x2="1110.23" y2="729.54" stroke="#1b1718" stroke-width="1.1" />
<line x1="1105.33" y1="729.50" x2="1106.47" y2="731.93" stroke="#1b1718" stroke-width="1.1" />
<line x1="1101.09" y1="730.86" x2="1102.71" y2="734.31" stroke="#1b1718" stroke-width="1.1" />
<line x1="1096.85" y1="732.23" x2="1098.95" y2="736.70" stroke="#1b1718" stroke-width="1.1" />
<text x="1085.9" y="742.7" font-size="12" text-anchor="start" fill="#1b1718" ><tspan >H</tspan></text>
<line x1="1047.10" y1="691.00" x2="1031.60" y2="682.50" stroke="#1b1718" stroke-width="1.5" />
<line x1="1047.10" y1="715.60" x2="1031.60" y2="724.10" stroke="#1b1718" stroke-width="1.5" />
<line x1="1176.70" y1="764.80" x2="1191.20" y2="756.30" stroke="#1b1718" stroke-width="1.5" />
<line x1="1176.70" y1="789.40" x2="1191.20" y2="797.40" stroke="#1b1718" stroke-width="1.5" />
<text x="1031.7" y="681.2" font-size="13" text-anchor="end" fill="#1b1718" ><tspan >MeO</tspan></text>
<text x="1031.7" y="730.2" font-size="13" text-anchor="end" fill="#1b1718" ><tspan fill="#b82537">Me</tspan><tspan >O</tspan></text>
<text x="1128.5" y="718.1" font-size="13" text-anchor="start" fill="#1b1718" ><tspan >N</tspan></text>
<text x="1192.7" y="755.8" font-size="13" text-anchor="start" fill="#1b1718" ><tspan >OMe</tspan></text>
<text x="1192.7" y="804.9" font-size="13" text-anchor="start" fill="#1b1718" ><tspan >OMe</tspan></text>
<text x="1043.5" y="839.1" font-size="17.5" text-anchor="start" fill="#1b1718" textLength="160.1" lengthAdjust="spacingAndGlyphs" ><tspan >Rotundine ((</tspan><tspan font-style="italic">S</tspan><tspan >)-</tspan><tspan font-weight="bold">8a</tspan><tspan >)</tspan></text>
<polyline points="70.70,351.80 147.30,351.80 147.80,351.80 148.30,351.79 148.80,351.79 149.30,351.78 149.80,351.77 150.30,351.75 150.80,351.71 151.30,351.67 151.80,351.60 152.30,351.50 152.80,351.37 153.30,351.18 153.80,350.93 154.30,350.59 154.80,350.16 155.30,349.62 155.80,348.94 156.30,348.13 156.80,347.18 157.30,346.07 157.80,344.84 158.30,343.49 158.80,342.06 159.30,340.59 159.80,339.13 160.30,337.74 160.80,336.48 161.30,335.41 161.80,334.58 162.30,334.04 162.80,333.81 163.30,333.89 163.80,334.27 164.30,334.92 164.80,335.81 165.30,336.91 165.80,338.15 166.30,339.49 166.80,340.88 167.30,342.27 167.80,343.62 168.30,344.90 168.80,346.07 169.30,347.12 169.80,348.04 170.30,348.83 170.80,349.49 171.30,350.03 171.80,350.47 172.30,350.81 172.80,351.08 173.30,351.29 173.80,351.44 174.30,351.55 174.80,351.63 175.30,351.69 175.80,351.72 176.30,351.75 176.80,351.77 177.30,351.78 177.80,351.79 178.30,351.79 425.20,351.80" fill="none" stroke="#6a6a6a" stroke-width="1.4" stroke-linejoin="miter" stroke-linejoin="round"/>
<polyline points="70.70,416.40 149.00,416.39 149.50,416.38 150.00,416.37 150.50,416.35 151.00,416.32 151.50,416.26 152.00,416.18 152.50,416.06 153.00,415.88 153.50,415.62 154.00,415.26 154.50,414.76 155.00,414.10 155.50,413.24 156.00,412.14 156.50,410.80 157.00,409.19 157.50,407.31 158.00,405.19 158.50,402.87 159.00,400.41 159.50,397.92 160.00,395.50 160.50,393.26 161.00,391.33 161.50,389.83 162.00,388.83 162.50,388.41 163.00,388.59 163.50,389.36 164.00,390.68 164.50,392.45 165.00,394.57 165.50,396.94 166.00,399.42 166.50,401.90 167.00,404.28 167.50,406.49 168.00,408.47 168.50,410.19 169.00,411.64 169.50,412.83 170.00,413.78 170.50,414.52 171.00,415.08 171.50,415.49 172.00,415.79 172.50,416.00 173.00,416.14 173.50,416.24 174.00,416.30 174.50,416.34 175.00,416.36 175.50,416.38 176.00,416.39 221.00,416.40 221.50,416.40 222.00,416.40 222.50,416.39 223.00,416.38 223.50,416.37 224.00,416.33 224.50,416.28 225.00,416.20 225.50,416.08 226.00,415.91 226.50,415.71 227.00,415.49 227.50,415.27 228.00,415.08 228.50,414.95 229.00,414.90 229.50,414.95 230.00,415.08 230.50,415.27 231.00,415.49 231.50,415.71 232.00,415.91 232.50,416.08 233.00,416.20 233.50,416.28 234.00,416.33 234.50,416.37 235.00,416.38 235.50,416.39 236.00,416.40 236.50,416.40 237.00,416.40 425.20,416.40" fill="none" stroke="#1b1718" stroke-width="1.55" stroke-linejoin="miter" stroke-linejoin="round"/>
<polyline points="70.70,481.20 215.30,481.19 215.80,481.19 216.30,481.17 216.80,481.16 217.30,481.13 217.80,481.09 218.30,481.03 218.80,480.94 219.30,480.81 219.80,480.62 220.30,480.36 220.80,480.00 221.30,479.52 221.80,478.90 222.30,478.12 222.80,477.14 223.30,475.95 223.80,474.54 224.30,472.92 224.80,471.10 225.30,469.12 225.80,467.02 226.30,464.88 226.80,462.77 227.30,460.78 227.80,459.02 228.30,457.56 228.80,456.48 229.30,455.86 229.80,455.71 230.30,456.05 230.80,456.86 231.30,458.10 231.80,459.69 232.30,461.55 232.80,463.60 233.30,465.73 233.80,467.87 234.30,469.93 234.80,471.85 235.30,473.60 235.80,475.13 236.30,476.45 236.80,477.55 237.30,478.45 237.80,479.17 238.30,479.73 238.80,480.16 239.30,480.47 239.80,480.70 240.30,480.87 240.80,480.98 241.30,481.06 241.80,481.11 242.30,481.14 242.80,481.17 243.30,481.18 243.80,481.19 425.20,481.20" fill="none" stroke="#1b1718" stroke-width="1.55" stroke-linejoin="miter" stroke-linejoin="round"/>
<polyline points="70.70,545.50 149.00,545.49 149.50,545.48 150.00,545.47 150.50,545.45 151.00,545.42 151.50,545.36 152.00,545.28 152.50,545.16 153.00,544.98 153.50,544.72 154.00,544.36 154.50,543.86 155.00,543.20 155.50,542.34 156.00,541.24 156.50,539.90 157.00,538.29 157.50,536.41 158.00,534.29 158.50,531.97 159.00,529.51 159.50,527.02 160.00,524.60 160.50,522.36 161.00,520.43 161.50,518.93 162.00,517.93 162.50,517.51 163.00,517.69 163.50,518.46 164.00,519.78 164.50,521.55 165.00,523.67 165.50,526.04 166.00,528.52 166.50,531.00 167.00,533.38 167.50,535.59 168.00,537.57 168.50,539.29 169.00,540.74 169.50,541.93 170.00,542.88 170.50,543.62 171.00,544.18 171.50,544.59 172.00,544.89 172.50,545.10 173.00,545.24 173.50,545.34 174.00,545.40 174.50,545.44 175.00,545.46 175.50,545.48 176.00,545.49 221.00,545.50 221.50,545.50 222.00,545.50 222.50,545.49 223.00,545.48 223.50,545.47 224.00,545.43 224.50,545.38 225.00,545.30 225.50,545.18 226.00,545.01 226.50,544.81 227.00,544.59 227.50,544.37 228.00,544.18 228.50,544.05 229.00,544.00 229.50,544.05 230.00,544.18 230.50,544.37 231.00,544.59 231.50,544.81 232.00,545.01 232.50,545.18 233.00,545.30 233.50,545.38 234.00,545.43 234.50,545.47 235.00,545.48 235.50,545.49 236.00,545.50 236.50,545.50 237.00,545.50 425.20,545.50" fill="none" stroke="#1b1718" stroke-width="1.55" stroke-linejoin="miter" stroke-linejoin="round"/>
<line x1="162.9" y1="300" x2="162.9" y2="551" stroke="#1b1718" stroke-width="1.8" stroke-dasharray="11.1 11.1"/>
<line x1="229.0" y1="300" x2="229.0" y2="551" stroke="#1b1718" stroke-width="1.8" stroke-dasharray="11.1 11.1"/>
<text x="130.2" y="292.3" font-size="17.5" text-anchor="start" fill="#1b1718" textLength="52.7" lengthAdjust="spacingAndGlyphs" ><tspan >(</tspan><tspan font-style="italic">S</tspan><tspan >)-</tspan><tspan font-weight="bold">3a</tspan></text>
<text x="218.4" y="292.3" font-size="17.5" text-anchor="start" fill="#1b1718" textLength="19.7" lengthAdjust="spacingAndGlyphs" ><tspan font-weight="bold">1a</tspan></text>
<line x1="70.70" y1="551.30" x2="425.20" y2="551.30" stroke="#1b1718" stroke-width="1.6" />
<line x1="70.70" y1="551.30" x2="70.70" y2="554.80" stroke="#666" stroke-width="1.0" />
<text x="65.0" y="570.6" font-size="19" text-anchor="middle" fill="#1b1718" ><tspan >10</tspan></text>
<line x1="188.87" y1="551.30" x2="188.87" y2="554.80" stroke="#666" stroke-width="1.0" />
<text x="185.4" y="570.6" font-size="19" text-anchor="middle" fill="#1b1718" ><tspan >12</tspan></text>
<line x1="307.04" y1="551.30" x2="307.04" y2="554.80" stroke="#666" stroke-width="1.0" />
<text x="306.9" y="570.6" font-size="19" text-anchor="middle" fill="#1b1718" ><tspan >14</tspan></text>
<line x1="425.21" y1="551.30" x2="425.21" y2="554.80" stroke="#666" stroke-width="1.0" />
<text x="427.3" y="570.6" font-size="19" text-anchor="middle" fill="#1b1718" ><tspan >16</tspan></text>
<text x="208.1" y="591.5" font-size="17.5" text-anchor="start" fill="#1b1718" textLength="85.3" lengthAdjust="spacingAndGlyphs" ><tspan >Time(min)</tspan></text>
<text x="425.2" y="347.5" font-size="18.5" text-anchor="start" fill="#1b1718" textLength="195.3" lengthAdjust="spacingAndGlyphs" ><tspan font-weight="bold">1a</tspan><tspan >+Dopamine+</tspan><tspan font-style="italic">Tp</tspan><tspan >CAR</tspan></text>
<text x="425.2" y="412.3" font-size="18.5" text-anchor="start" fill="#1b1718" textLength="264.5" lengthAdjust="spacingAndGlyphs" ><tspan font-weight="bold">1a</tspan><tspan >+Dopamine+</tspan><tspan font-style="italic">Tp</tspan><tspan >CAR+</tspan><tspan font-style="italic">Tf</tspan><tspan >NCS</tspan></text>
<text x="425.2" y="477.5" font-size="18.5" text-anchor="start" fill="#1b1718" textLength="100.8" lengthAdjust="spacingAndGlyphs" ><tspan font-weight="bold">1a</tspan><tspan > standard</tspan></text>
<text x="425.2" y="543.0" font-size="18.5" text-anchor="start" fill="#1b1718" textLength="133.5" lengthAdjust="spacingAndGlyphs" ><tspan >(</tspan><tspan font-style="italic">S</tspan><tspan >)-</tspan><tspan font-weight="bold">3a</tspan><tspan > standard</tspan></text>
<polyline points="694.60,326.80 840.00,326.80 840.50,326.80 841.00,326.80 841.50,326.80 842.00,326.80 842.50,326.79 843.00,326.79 843.40,326.79 843.50,326.79 843.90,326.79 844.00,326.79 844.40,326.78 844.50,326.78 844.90,326.77 845.00,326.77 845.40,326.76 845.50,326.76 845.90,326.75 846.00,326.75 846.40,326.74 846.50,326.73 846.90,326.71 847.00,326.70 847.40,326.67 847.50,326.66 847.90,326.60 848.00,326.58 848.40,326.48 848.50,326.45 848.90,326.26 849.00,326.19 849.40,325.86 849.50,325.75 849.90,325.18 850.00,325.01 850.40,324.14 850.50,323.87 850.90,322.64 851.00,322.28 851.40,320.68 851.50,320.24 851.90,318.39 852.00,317.92 852.40,316.04 852.50,315.59 852.90,313.97 853.00,313.63 853.40,312.58 853.50,312.41 853.90,312.12 854.00,312.12 854.40,312.32 854.50,312.42 854.90,312.97 855.00,313.15 855.40,313.99 855.50,314.23 855.90,315.27 856.00,315.55 856.40,316.68 856.50,316.97 856.90,318.11 857.00,318.38 857.40,319.44 857.50,319.69 857.90,320.62 858.00,320.83 858.40,321.60 858.50,321.78 858.90,322.39 859.00,322.52 859.40,322.99 859.50,323.09 859.90,323.44 860.00,323.51 860.40,323.77 860.50,323.82 860.90,324.02 861.00,324.06 861.40,324.21 861.50,324.24 861.90,324.37 862.00,324.40 862.40,324.52 862.50,324.54 862.90,324.66 863.00,324.69 863.40,324.80 863.50,324.83 863.90,324.95 864.00,324.98 864.50,325.13 865.00,325.28 865.50,325.43 866.00,325.58 866.50,325.73 867.00,325.86 867.50,325.99 868.00,326.10 868.50,326.21 869.00,326.31 869.50,326.39 870.00,326.46 870.50,326.52 871.00,326.58 871.50,326.62 872.00,326.66 872.50,326.69 873.00,326.71 873.50,326.73 874.00,326.75 874.50,326.76 875.00,326.77 875.50,326.78 876.00,326.79 876.50,326.79 877.00,326.79 877.50,326.79 878.00,326.80 878.50,326.80 879.00,326.80 879.50,326.80 880.00,326.80 1048.60,326.80" fill="none" stroke="#6a6a6a" stroke-width="1.4" stroke-linejoin="miter" stroke-linejoin="round"/>
<polyline points="694.60,364.10 754.30,364.10 754.80,364.10 755.30,364.10 755.80,364.09 756.30,364.08 756.80,364.07 757.30,364.04 757.80,364.00 758.30,363.94 758.80,363.84 759.30,363.71 759.80,363.53 760.30,363.29 760.80,363.01 761.30,362.69 761.80,362.34 762.30,361.99 762.80,361.68 763.30,361.42 763.80,361.26 764.30,361.20 764.80,361.26 765.30,361.42 765.80,361.68 766.30,361.99 766.80,362.34 767.30,362.69 767.80,363.01 768.30,363.29 768.80,363.53 769.30,363.71 769.80,363.84 770.30,363.94 770.80,364.00 771.30,364.04 771.80,364.07 772.30,364.08 772.80,364.09 773.30,364.10 773.80,364.10 774.30,364.10 784.60,364.10 785.10,364.10 785.60,364.09 786.10,364.09 786.60,364.07 787.10,364.03 787.60,363.95 788.10,363.80 788.60,363.53 789.10,363.09 789.60,362.42 790.10,361.49 790.60,360.27 791.10,358.83 791.60,357.30 792.10,355.84 792.60,354.68 793.10,354.01 793.60,353.94 794.10,354.40 794.60,355.31 795.10,356.53 795.60,357.91 796.10,359.30 796.60,360.56 797.10,361.62 797.60,362.45 798.10,363.06 798.60,363.48 799.10,363.74 799.60,363.91 800.10,364.00 800.60,364.05 801.10,364.08 801.60,364.09 802.10,364.10 1048.60,364.10" fill="none" stroke="#1b1718" stroke-width="1.55" stroke-linejoin="miter" stroke-linejoin="round"/>
<polyline points="694.60,401.10 905.00,401.10 905.50,401.10 906.00,401.10 906.50,401.10 907.00,401.09 907.50,401.08 908.00,401.05 908.50,400.98 909.00,400.81 909.50,400.46 910.00,399.81 910.50,398.71 911.00,397.06 911.50,394.81 912.00,392.14 912.50,389.38 913.00,387.05 913.50,385.64 914.00,385.46 914.50,386.17 915.00,387.57 915.50,389.45 916.00,391.58 916.50,393.71 917.00,395.65 917.50,397.28 918.00,398.56 918.50,399.50 919.00,400.14 919.50,400.55 920.00,400.80 920.50,400.95 921.00,401.03 921.50,401.07 922.00,401.08 922.50,401.09 1048.60,401.10" fill="none" stroke="#1b1718" stroke-width="1.55" stroke-linejoin="miter" stroke-linejoin="round"/>
<polyline points="694.60,437.50 752.80,437.50 753.30,437.50 753.80,437.49 754.30,437.48 754.80,437.46 755.30,437.42 755.80,437.35 756.30,437.22 756.80,436.99 757.30,436.62 757.80,436.06 758.30,435.24 758.80,434.13 759.30,432.69 759.80,430.96 760.30,429.03 760.80,427.02 761.30,425.13 761.80,423.58 762.30,422.56 762.80,422.20 763.30,422.50 763.80,423.38 764.30,424.72 764.80,426.39 765.30,428.22 765.80,430.05 766.30,431.76 766.80,433.25 767.30,434.47 767.80,435.43 768.30,436.14 768.80,436.64 769.30,436.98 769.80,437.20 770.30,437.33 770.80,437.41 771.30,437.45 771.80,437.48 772.30,437.49 772.80,437.49 1048.60,437.50" fill="none" stroke="#1b1718" stroke-width="1.55" stroke-linejoin="miter" stroke-linejoin="round"/>
<polyline points="694.60,474.30 837.00,474.30 837.50,474.30 838.00,474.30 838.50,474.30 839.00,474.30 839.50,474.29 840.00,474.29 840.50,474.29 841.00,474.28 841.50,474.27 842.00,474.26 842.50,474.25 843.00,474.24 843.50,474.22 844.00,474.19 844.40,474.17 844.50,474.16 844.90,474.13 845.00,474.12 845.40,474.08 845.50,474.07 845.90,474.03 846.00,474.02 846.40,473.96 846.50,473.95 846.90,473.88 847.00,473.86 847.40,473.78 847.50,473.76 847.90,473.66 848.00,473.63 848.40,473.47 848.50,473.42 848.90,473.17 849.00,473.08 849.40,472.63 849.50,472.47 849.90,471.67 850.00,471.40 850.40,470.07 850.50,469.66 850.90,467.69 851.00,467.11 851.40,464.56 851.50,463.87 851.90,461.06 852.00,460.38 852.40,457.89 852.50,457.37 852.90,455.84 853.00,455.62 853.40,455.40 853.50,455.45 853.90,455.97 854.00,456.18 854.40,457.29 854.50,457.62 854.90,459.13 855.00,459.54 855.40,461.25 855.50,461.69 855.90,463.41 856.00,463.82 856.40,465.39 856.50,465.76 856.90,467.09 857.00,467.39 857.40,468.44 857.50,468.67 857.90,469.47 858.00,469.64 858.40,470.21 858.50,470.33 858.90,470.75 859.00,470.84 859.40,471.14 859.50,471.20 859.90,471.44 860.00,471.49 860.40,471.68 860.50,471.73 860.90,471.90 861.00,471.95 861.40,472.11 861.50,472.15 861.90,472.31 862.00,472.35 862.50,472.55 863.00,472.74 863.50,472.93 864.00,473.10 864.50,473.26 865.00,473.41 865.50,473.55 866.00,473.67 866.50,473.77 867.00,473.87 867.50,473.95 868.00,474.02 868.50,474.07 869.00,474.12 869.50,474.16 870.00,474.19 870.50,474.22 871.00,474.24 871.50,474.25 872.00,474.26 872.50,474.27 873.00,474.28 873.50,474.29 874.00,474.29 874.50,474.29 875.00,474.30 875.50,474.30 876.00,474.30 876.50,474.30 877.00,474.30 1048.60,474.30" fill="none" stroke="#1b1718" stroke-width="1.55" stroke-linejoin="miter" stroke-linejoin="round"/>
<polyline points="694.60,511.50 758.00,511.50 758.50,511.50 759.00,511.50 759.50,511.50 760.00,511.50 760.50,511.50 761.00,511.49 761.50,511.49 762.00,511.49 762.50,511.49 763.00,511.48 763.50,511.48 764.00,511.47 764.50,511.47 765.00,511.46 765.50,511.45 766.00,511.44 766.50,511.43 767.00,511.41 767.50,511.39 768.00,511.37 768.50,511.35 769.00,511.32 769.50,511.28 770.00,511.24 770.50,511.20 771.00,511.15 771.50,511.09 772.00,511.03 772.50,510.95 773.00,510.88 773.50,510.79 774.00,510.69 774.50,510.59 775.00,510.48 775.50,510.36 776.00,510.24 776.50,510.11 777.00,509.97 777.50,509.83 778.00,509.68 778.50,509.53 779.00,509.38 779.50,509.23 780.00,509.08 780.50,508.93 781.00,508.79 781.50,508.65 782.00,508.53 782.50,508.41 783.00,508.31 783.50,508.22 784.00,508.14 784.50,508.08 785.00,508.04 785.50,508.01 786.00,508.00 786.20,508.01 786.50,508.10 786.70,508.19 787.00,508.38 787.20,508.53 787.50,508.78 787.70,508.95 788.00,509.18 788.20,509.30 788.50,509.43 788.70,509.45 789.00,509.37 789.20,509.22 789.50,508.83 789.70,508.45 790.00,507.69 790.20,507.06 790.50,505.94 790.70,505.10 791.00,503.76 791.20,502.86 791.50,501.55 791.70,500.77 792.00,499.81 792.20,499.36 792.50,499.01 792.70,499.01 793.00,499.38 793.20,499.84 793.50,500.83 793.70,501.63 794.00,502.97 794.20,503.92 794.50,505.32 794.70,506.22 795.00,507.44 795.20,508.16 795.50,509.08 795.70,509.59 796.00,510.19 796.20,510.51 796.50,510.86 796.70,511.03 797.00,511.22 797.20,511.30 797.50,511.39 797.70,511.42 798.00,511.46 798.20,511.47 798.50,511.49 798.70,511.49 799.00,511.50 799.50,511.50 800.00,511.50 800.50,511.50 801.00,511.50 801.50,511.50 802.00,511.50 802.50,511.50 803.00,511.50 803.50,511.50 804.00,511.50 804.50,511.50 805.00,511.50 805.50,511.50 806.00,511.50 806.50,511.50 807.00,511.50 807.50,511.50 808.00,511.50 808.50,511.50 809.00,511.50 809.50,511.50 810.00,511.50 810.50,511.50 811.00,511.50 811.50,511.50 812.00,511.50 812.50,511.50 813.00,511.50 813.50,511.50 814.00,511.50 1048.60,511.50" fill="none" stroke="#1b1718" stroke-width="1.55" stroke-linejoin="miter" stroke-linejoin="round"/>
<polyline points="694.60,548.20 903.70,548.20 904.20,548.20 904.70,548.20 905.20,548.20 905.70,548.20 906.20,548.19 906.70,548.18 907.20,548.15 907.70,548.07 908.20,547.88 908.70,547.52 909.20,546.85 909.70,545.75 910.20,544.12 910.70,541.97 911.20,539.47 911.70,536.98 912.20,534.97 912.70,533.90 913.20,533.92 913.70,534.65 914.20,535.93 914.70,537.60 915.20,539.47 915.70,541.34 916.20,543.06 916.70,544.52 917.20,545.69 917.70,546.57 918.20,547.19 918.70,547.60 919.20,547.86 919.70,548.02 920.20,548.11 920.70,548.15 921.20,548.18 921.70,548.19 1048.60,548.20" fill="none" stroke="#1b1718" stroke-width="1.6" stroke-linejoin="miter" stroke-linejoin="round"/>
<line x1="762.8" y1="300.6" x2="762.8" y2="548.2" stroke="#1b1718" stroke-width="1.8" stroke-dasharray="11.1 11.1"/>
<line x1="793.4" y1="300.6" x2="793.4" y2="548.2" stroke="#1b1718" stroke-width="1.8" stroke-dasharray="11.1 11.1"/>
<line x1="853.2" y1="300.6" x2="853.2" y2="548.2" stroke="#1b1718" stroke-width="1.8" stroke-dasharray="11.1 11.1"/>
<line x1="913.8" y1="300.6" x2="913.8" y2="548.2" stroke="#1b1718" stroke-width="1.8" stroke-dasharray="11.1 11.1"/>
<text x="722.6" y="293.3" font-size="17.5" text-anchor="start" fill="#1b1718" textLength="52.4" lengthAdjust="spacingAndGlyphs" ><tspan >(</tspan><tspan font-style="italic">S</tspan><tspan >)-</tspan><tspan font-weight="bold">3a</tspan></text>
<text x="780.3" y="293.3" font-size="17.5" text-anchor="start" fill="#1b1718" textLength="56.8" lengthAdjust="spacingAndGlyphs" ><tspan >(</tspan><tspan font-style="italic">S</tspan><tspan >)-</tspan><tspan font-weight="bold">4a’</tspan></text>
<text x="840.0" y="293.3" font-size="17.5" text-anchor="start" fill="#1b1718" textLength="51.9" lengthAdjust="spacingAndGlyphs" ><tspan >(</tspan><tspan font-style="italic">S</tspan><tspan >)-</tspan><tspan font-weight="bold">4a</tspan></text>
<text x="900.4" y="293.3" font-size="17.5" text-anchor="start" fill="#1b1718" textLength="53.3" lengthAdjust="spacingAndGlyphs" ><tspan >(</tspan><tspan font-style="italic">S</tspan><tspan >)-</tspan><tspan font-weight="bold">5a</tspan></text>
<line x1="694.60" y1="548.20" x2="694.60" y2="553.50" stroke="#888" stroke-width="1.0" />
<text x="699.2" y="570.8" font-size="19" text-anchor="middle" fill="#1b1718" ><tspan >10</tspan></text>
<line x1="783.10" y1="548.20" x2="783.10" y2="553.50" stroke="#888" stroke-width="1.0" />
<text x="786.7" y="570.8" font-size="19" text-anchor="middle" fill="#1b1718" ><tspan >12</tspan></text>
<line x1="871.60" y1="548.20" x2="871.60" y2="553.50" stroke="#888" stroke-width="1.0" />
<text x="873.5" y="570.8" font-size="19" text-anchor="middle" fill="#1b1718" ><tspan >14</tspan></text>
<line x1="960.10" y1="548.20" x2="960.10" y2="553.50" stroke="#888" stroke-width="1.0" />
<text x="962.5" y="570.8" font-size="19" text-anchor="middle" fill="#1b1718" ><tspan >16</tspan></text>
<line x1="1048.60" y1="548.20" x2="1048.60" y2="553.50" stroke="#888" stroke-width="1.0" />
<text x="1050.1" y="570.8" font-size="19" text-anchor="middle" fill="#1b1718" ><tspan >18</tspan></text>
<text x="838.6" y="589.5" font-size="17.5" text-anchor="start" fill="#1b1718" textLength="84.4" lengthAdjust="spacingAndGlyphs" ><tspan >Time(min)</tspan></text>
<text x="1060.7" y="327.8" font-size="18.5" text-anchor="start" fill="#1b1718" textLength="141.3" lengthAdjust="spacingAndGlyphs" ><tspan >(</tspan><tspan font-style="italic">S</tspan><tspan >)-</tspan><tspan font-weight="bold">3a</tspan><tspan >+</tspan><tspan font-style="italic">Ps</tspan><tspan >6OMT</tspan></text>
<text x="1060.7" y="364.8" font-size="18.5" text-anchor="start" fill="#1b1718" textLength="120.6" lengthAdjust="spacingAndGlyphs" ><tspan >(</tspan><tspan font-style="italic">S</tspan><tspan >)-</tspan><tspan font-weight="bold">3a</tspan><tspan >+CNMT</tspan></text>
<text x="1060.7" y="401.1" font-size="18.5" text-anchor="start" fill="#1b1718" textLength="206.5" lengthAdjust="spacingAndGlyphs" ><tspan >(</tspan><tspan font-style="italic">S</tspan><tspan >)-</tspan><tspan font-weight="bold">3a</tspan><tspan >+</tspan><tspan font-style="italic">Ps</tspan><tspan >6OMT+CNMT</tspan></text>
<text x="1060.7" y="438.0" font-size="18.5" text-anchor="start" fill="#1b1718" textLength="133.6" lengthAdjust="spacingAndGlyphs" ><tspan >(</tspan><tspan font-style="italic">S</tspan><tspan >)-</tspan><tspan font-weight="bold">3a</tspan><tspan > standard</tspan></text>
<text x="1060.7" y="475.0" font-size="18.5" text-anchor="start" fill="#1b1718" textLength="133.6" lengthAdjust="spacingAndGlyphs" ><tspan >(</tspan><tspan font-style="italic">S</tspan><tspan >)-</tspan><tspan font-weight="bold">4a</tspan><tspan > standard</tspan></text>
<text x="1060.7" y="510.9" font-size="18.5" text-anchor="start" fill="#1b1718" textLength="139.1" lengthAdjust="spacingAndGlyphs" ><tspan >(</tspan><tspan font-style="italic">S</tspan><tspan >)-</tspan><tspan font-weight="bold">4a’</tspan><tspan > standard</tspan></text>
<text x="1060.7" y="547.8" font-size="18.5" text-anchor="start" fill="#1b1718" textLength="133.6" lengthAdjust="spacingAndGlyphs" ><tspan >(</tspan><tspan font-style="italic">S</tspan><tspan >)-</tspan><tspan font-weight="bold">5a</tspan><tspan > standard</tspan></text>
<polyline points="70.80,938.40 220.80,938.40 221.30,938.40 221.80,938.40 222.30,938.40 222.80,938.39 223.30,938.39 223.80,938.37 224.30,938.35 224.80,938.30 225.30,938.23 225.80,938.11 226.30,937.92 226.80,937.63 227.30,937.23 227.80,936.67 228.30,935.94 228.80,935.03 229.30,933.95 229.80,932.75 229.90,932.49 230.30,931.47 230.40,931.22 230.80,930.22 230.90,929.98 231.30,929.08 231.40,928.88 231.80,928.17 231.90,928.02 232.30,927.56 232.40,927.47 232.80,927.27 232.90,927.25 233.30,927.21 233.40,927.22 233.80,927.21 233.90,927.19 234.30,927.02 234.40,926.94 234.80,926.38 234.90,926.17 235.30,925.02 235.40,924.65 235.80,922.85 235.90,922.34 236.30,920.09 236.40,919.51 236.80,917.30 236.90,916.80 237.30,915.25 237.40,915.01 237.80,914.70 237.90,914.81 238.30,915.77 238.40,916.12 238.80,917.93 238.90,918.48 239.30,920.91 239.40,921.57 239.80,924.30 239.90,924.99 240.30,927.69 240.40,928.34 240.80,930.75 240.90,931.29 241.30,933.25 241.40,933.68 241.80,935.14 241.90,935.45 242.30,936.46 242.40,936.66 242.80,937.31 242.90,937.44 243.30,937.83 243.40,937.90 243.80,938.12 243.90,938.15 244.30,938.27 244.40,938.29 244.80,938.34 244.90,938.35 245.40,938.38 245.90,938.39 300.90,938.40 301.40,938.40 301.90,938.40 302.40,938.40 302.90,938.40 303.40,938.40 303.90,938.40 304.40,938.39 304.90,938.36 305.40,938.31 305.90,938.21 306.40,938.02 306.90,937.71 307.40,937.26 307.90,936.70 308.40,936.10 308.90,935.58 309.40,935.26 309.90,935.21 310.40,935.36 310.90,935.64 311.40,936.03 311.90,936.46 312.40,936.89 312.90,937.29 313.40,937.62 313.90,937.88 314.40,938.07 314.90,938.20 315.40,938.29 315.90,938.34 316.40,938.37 316.90,938.38 317.40,938.39 317.90,938.40 318.40,938.40 425.20,938.40" fill="none" stroke="#1b1718" stroke-width="1.55" stroke-linejoin="miter" stroke-linejoin="round"/>
<polyline points="70.80,1037.00 226.20,1037.00 226.70,1036.99 227.20,1036.98 227.70,1036.95 228.20,1036.91 228.70,1036.82 229.20,1036.67 229.70,1036.41 230.20,1036.00 230.70,1035.36 231.20,1034.42 231.70,1033.10 232.20,1031.35 232.70,1029.12 233.20,1026.45 233.70,1023.43 234.20,1020.22 234.70,1017.07 235.20,1014.26 235.70,1012.07 236.20,1010.74 236.70,1010.42 237.20,1011.10 237.70,1012.68 238.20,1014.99 238.70,1017.80 239.20,1020.87 239.70,1023.93 240.20,1026.80 240.70,1029.33 241.20,1031.44 241.70,1033.12 242.20,1034.38 242.70,1035.30 243.20,1035.94 243.70,1036.36 244.20,1036.63 244.70,1036.79 245.20,1036.89 245.70,1036.94 246.20,1036.97 246.70,1036.99 425.20,1037.00" fill="none" stroke="#1b1718" stroke-width="1.55" stroke-linejoin="miter" stroke-linejoin="round"/>
<polyline points="70.80,1136.20 298.40,1136.20 298.90,1136.20 299.40,1136.20 299.90,1136.20 300.40,1136.20 300.90,1136.19 301.40,1136.16 301.90,1136.09 302.40,1135.92 302.90,1135.55 303.40,1134.79 303.90,1133.40 304.40,1131.12 304.90,1127.73 305.40,1123.26 305.90,1118.06 306.40,1112.89 306.90,1108.73 307.40,1106.51 307.90,1106.55 308.40,1108.06 308.90,1110.71 309.40,1114.19 309.90,1118.06 310.40,1121.95 310.90,1125.52 311.40,1128.56 311.90,1130.99 312.40,1132.81 312.90,1134.10 313.40,1134.96 313.90,1135.50 314.40,1135.82 314.90,1136.01 315.40,1136.10 315.90,1136.16 316.40,1136.18 425.20,1136.20" fill="none" stroke="#1b1718" stroke-width="1.55" stroke-linejoin="miter" stroke-linejoin="round"/>
<line x1="236.8" y1="885.8" x2="236.8" y2="1144.4" stroke="#1b1718" stroke-width="1.8" stroke-dasharray="11.1 11.1"/>
<line x1="306.9" y1="885.8" x2="306.9" y2="1144.4" stroke="#1b1718" stroke-width="1.8" stroke-dasharray="11.1 11.1"/>
<text x="207.2" y="875.6" font-size="17.5" text-anchor="start" fill="#1b1718" textLength="52.2" lengthAdjust="spacingAndGlyphs" ><tspan >(</tspan><tspan font-style="italic">S</tspan><tspan >)-</tspan><tspan font-weight="bold">5a</tspan></text>
<text x="283.9" y="875.6" font-size="17.5" text-anchor="start" fill="#1b1718" textLength="52.2" lengthAdjust="spacingAndGlyphs" ><tspan >(</tspan><tspan font-style="italic">S</tspan><tspan >)-</tspan><tspan font-weight="bold">6a</tspan></text>
<line x1="70.80" y1="1144.80" x2="425.20" y2="1144.80" stroke="#1b1718" stroke-width="1.5" />
<line x1="70.80" y1="1144.80" x2="70.80" y2="1148.40" stroke="#333" stroke-width="1.2" />
<text x="71.9" y="1168.7" font-size="19" text-anchor="middle" fill="#1b1718" ><tspan >10</tspan></text>
<line x1="159.40" y1="1144.80" x2="159.40" y2="1148.40" stroke="#333" stroke-width="1.2" />
<text x="160.4" y="1168.7" font-size="19" text-anchor="middle" fill="#1b1718" ><tspan >12</tspan></text>
<line x1="248.00" y1="1144.80" x2="248.00" y2="1148.40" stroke="#333" stroke-width="1.2" />
<text x="249.0" y="1168.7" font-size="19" text-anchor="middle" fill="#1b1718" ><tspan >14</tspan></text>
<line x1="336.60" y1="1144.80" x2="336.60" y2="1148.40" stroke="#333" stroke-width="1.2" />
<text x="338.5" y="1168.7" font-size="19" text-anchor="middle" fill="#1b1718" ><tspan >16</tspan></text>
<line x1="425.20" y1="1144.80" x2="425.20" y2="1148.40" stroke="#333" stroke-width="1.2" />
<text x="427.2" y="1168.7" font-size="19" text-anchor="middle" fill="#1b1718" ><tspan >18</tspan></text>
<text x="209.9" y="1188.5" font-size="17.5" text-anchor="start" fill="#1b1718" textLength="82.7" lengthAdjust="spacingAndGlyphs" ><tspan >Time(min)</tspan></text>
<text x="438.7" y="935.9" font-size="18.5" text-anchor="start" fill="#1b1718" textLength="144.0" lengthAdjust="spacingAndGlyphs" ><tspan >(</tspan><tspan font-style="italic">S</tspan><tspan >)-</tspan><tspan font-weight="bold">5a</tspan><tspan >+</tspan><tspan font-style="italic">Ec</tspan><tspan >BBE</tspan><tspan font-size="10.7" dy="-6.3">WT</tspan></text>
<text x="437.9" y="1037.2" font-size="18.5" text-anchor="start" fill="#1b1718" textLength="134.6" lengthAdjust="spacingAndGlyphs" ><tspan >(</tspan><tspan font-style="italic">S</tspan><tspan >)-</tspan><tspan font-weight="bold">5a</tspan><tspan > standard</tspan></text>
<text x="437.9" y="1137.4" font-size="18.5" text-anchor="start" fill="#1b1718" textLength="134.6" lengthAdjust="spacingAndGlyphs" ><tspan >(</tspan><tspan font-style="italic">S</tspan><tspan >)-</tspan><tspan font-weight="bold">6a</tspan><tspan > standard</tspan></text>
<rect x="284.3" y="918.4" width="39.2" height="28.7" fill="none" stroke="#b82537" stroke-width="1.8"/>
<polygon points="325.90,916.50 335.10,916.50 330.50,909.40" fill="#e3061a" />
<rect x="392.8" y="868.2" width="61.2" height="46.5" fill="none" stroke="#b82537" stroke-width="1.8"/>
<polygon points="455.20,867.80 471.70,867.80 463.50,853.70" fill="#e3061a" />
<text x="396.1" y="888.3" font-size="17.5" text-anchor="start" fill="#1b1718" textLength="52.4" lengthAdjust="spacingAndGlyphs" ><tspan >(</tspan><tspan font-style="italic">S</tspan><tspan >)-</tspan><tspan font-weight="bold">6a</tspan></text>
<polyline points="395.40,910.00 404.40,910.00 404.90,910.00 405.40,910.00 405.90,909.99 406.40,909.99 406.90,909.98 407.40,909.97 407.90,909.95 408.40,909.92 408.90,909.89 409.40,909.84 409.90,909.77 410.40,909.68 410.90,909.56 411.40,909.41 411.90,909.22 412.40,908.99 412.90,908.72 413.40,908.41 413.90,908.06 414.40,907.68 414.90,907.28 415.40,906.86 415.90,906.46 416.40,906.08 416.90,905.74 417.40,905.46 417.90,905.25 418.40,905.13 418.90,905.10 419.40,905.26 419.90,905.63 420.40,906.15 420.90,906.77 421.40,907.41 421.90,908.02 422.40,908.56 422.90,909.00 423.40,909.34 423.90,909.58 424.40,909.75 424.90,909.85 425.40,909.92 425.90,909.96 426.40,909.98 426.90,909.99 427.40,910.00 427.90,910.00 428.40,910.00 428.90,910.00 429.40,910.00 429.90,910.00 430.40,910.00 430.90,910.00 431.40,910.00 431.90,910.00 432.40,910.00 432.90,910.00 450.90,910.00" fill="none" stroke="#1b1718" stroke-width="1.9" stroke-linejoin="miter" stroke-linejoin="round"/>
<line x1="442.60" y1="894.60" x2="433.00" y2="899.80" stroke="#1b1718" stroke-width="1.5" />
<polygon points="426.90,903.70 431.60,894.20 438.70,903.20" fill="#1b1718" />
<polyline points="694.60,935.30 812.70,935.30 813.20,935.30 813.70,935.30 814.20,935.30 814.70,935.30 815.20,935.30 815.70,935.30 816.20,935.28 816.70,935.24 817.20,935.10 817.70,934.75 818.20,933.93 818.70,932.32 819.20,929.59 819.70,925.67 820.20,921.00 820.70,916.61 821.20,913.80 821.70,913.39 822.20,914.39 822.70,916.34 823.20,918.98 823.70,921.96 824.20,924.94 824.70,927.66 825.20,929.95 825.70,931.74 826.20,933.05 826.70,933.95 827.20,934.53 827.70,934.89 828.20,935.09 828.70,935.20 829.20,935.25 829.70,935.28 830.20,935.29 873.00,935.30 873.50,935.30 874.00,935.30 874.50,935.29 875.00,935.28 875.50,935.25 876.00,935.19 876.50,935.10 877.00,934.97 877.50,934.81 878.00,934.66 878.50,934.54 879.00,934.50 879.50,934.54 880.00,934.66 880.50,934.81 881.00,934.97 881.50,935.10 882.00,935.19 882.50,935.24 883.00,935.26 883.50,935.26 884.00,935.24 884.50,935.20 885.00,935.12 885.50,935.02 886.00,934.88 886.50,934.70 887.00,934.51 887.50,934.32 888.00,934.15 888.50,934.04 889.00,934.00 889.50,934.04 890.00,934.15 890.50,934.32 891.00,934.51 891.50,934.70 892.00,934.88 892.50,935.02 893.00,935.12 893.50,935.20 893.90,935.24 894.00,935.24 894.40,935.27 894.50,935.27 894.90,935.28 895.00,935.29 895.40,935.29 895.50,935.29 895.90,935.30 896.00,935.30 896.40,935.30 896.50,935.30 896.90,935.30 897.00,935.30 897.40,935.29 897.90,935.28 898.40,935.24 898.90,935.15 899.40,934.95 899.90,934.57 900.40,933.89 900.90,932.83 901.40,931.33 901.90,929.44 902.40,927.37 902.90,925.46 903.40,924.10 903.90,923.60 904.40,923.83 904.90,924.50 905.40,925.53 905.90,926.80 906.40,928.20 906.90,929.60 907.40,930.91 907.90,932.05 908.40,932.98 908.90,933.72 909.40,934.26 909.90,934.64 910.40,934.90 910.90,935.07 911.40,935.17 911.90,935.23 912.40,935.26 912.90,935.28 913.40,935.29 913.90,935.30 1048.40,935.30" fill="none" stroke="#1b1718" stroke-width="1.55" stroke-linejoin="miter" stroke-linejoin="round"/>
<polyline points="694.60,1001.30 817.30,1001.30 817.80,1001.29 818.30,1001.27 818.80,1001.21 819.30,1001.04 819.80,1000.66 820.30,1000.00 820.80,999.08 821.30,998.10 821.80,997.42 822.30,997.36 822.80,997.93 823.30,998.87 823.80,999.83 824.30,1000.55 824.80,1000.98 825.30,1001.19 825.80,1001.27 826.30,1001.29 826.80,1001.30 892.70,1001.30 893.20,1001.30 893.70,1001.30 894.20,1001.30 894.70,1001.30 895.20,1001.30 895.70,1001.30 896.20,1001.29 896.70,1001.28 897.20,1001.22 897.70,1001.07 898.20,1000.69 898.70,999.86 899.20,998.26 899.70,995.58 900.20,991.65 900.70,986.75 901.20,981.66 901.70,977.58 902.20,975.66 902.70,975.95 903.20,977.34 903.70,979.62 904.20,982.51 904.70,985.71 905.20,988.92 905.70,991.88 906.20,994.44 906.70,996.51 907.20,998.10 907.70,999.26 908.20,1000.05 908.70,1000.57 909.20,1000.89 909.70,1001.08 910.20,1001.19 910.70,1001.24 911.20,1001.27 911.70,1001.29 1048.40,1001.30" fill="none" stroke="#1b1718" stroke-width="1.55" stroke-linejoin="miter" stroke-linejoin="round"/>
<polyline points="694.60,1067.50 759.00,1067.50 759.50,1067.50 760.00,1067.50 760.50,1067.49 761.00,1067.49 761.50,1067.47 762.00,1067.45 762.50,1067.40 763.00,1067.34 763.50,1067.24 764.00,1067.11 764.50,1066.95 765.00,1066.77 765.50,1066.59 766.00,1066.44 766.50,1066.34 767.00,1066.30 767.50,1066.34 768.00,1066.44 768.50,1066.59 769.00,1066.77 769.50,1066.95 770.00,1067.11 770.50,1067.24 771.00,1067.34 771.50,1067.40 772.00,1067.45 772.50,1067.47 773.00,1067.49 773.50,1067.49 774.00,1067.50 774.50,1067.50 775.00,1067.50 812.20,1067.50 812.70,1067.50 813.20,1067.50 813.70,1067.50 814.20,1067.50 814.70,1067.50 815.20,1067.50 815.70,1067.50 816.20,1067.50 816.70,1067.50 817.20,1067.50 817.70,1067.50 818.20,1067.50 818.70,1067.50 819.20,1067.50 819.70,1067.47 820.20,1067.35 820.70,1066.85 821.20,1065.30 821.70,1061.68 822.20,1055.48 822.70,1048.17 823.20,1043.29 823.70,1042.94 824.20,1043.79 824.70,1045.32 825.20,1047.41 825.70,1049.87 826.20,1052.52 826.70,1055.17 827.20,1057.67 827.70,1059.90 828.20,1061.82 828.70,1063.38 829.20,1064.61 829.70,1065.53 830.20,1066.21 830.70,1066.67 831.20,1066.99 831.70,1067.19 832.20,1067.32 832.70,1067.40 833.20,1067.45 833.70,1067.47 834.20,1067.49 1048.40,1067.50" fill="none" stroke="#1b1718" stroke-width="1.55" stroke-linejoin="miter" stroke-linejoin="round"/>
<polyline points="694.60,1134.50 974.60,1134.50 975.10,1134.50 975.60,1134.50 976.10,1134.50 976.60,1134.50 977.10,1134.50 977.60,1134.50 978.10,1134.50 978.60,1134.50 979.10,1134.49 979.60,1134.46 980.10,1134.36 980.60,1134.11 981.10,1133.52 981.60,1132.30 982.10,1130.07 982.60,1126.52 983.10,1121.63 983.60,1115.93 984.10,1110.53 984.60,1106.80 985.10,1105.82 985.60,1106.55 986.10,1108.26 986.60,1110.75 987.10,1113.79 987.60,1117.09 988.10,1120.40 988.60,1123.50 989.10,1126.22 989.60,1128.50 990.10,1130.31 990.60,1131.68 991.10,1132.67 991.60,1133.36 992.10,1133.81 992.60,1134.10 993.10,1134.28 993.60,1134.38 994.10,1134.44 994.60,1134.47 995.10,1134.48 1048.40,1134.50" fill="none" stroke="#1b1718" stroke-width="1.55" stroke-linejoin="miter" stroke-linejoin="round"/>
<line x1="822.1" y1="885.9" x2="822.1" y2="1139.5" stroke="#1b1718" stroke-width="1.8" stroke-dasharray="11.1 11.1"/>
<line x1="902.9" y1="885.9" x2="902.9" y2="1139.5" stroke="#1b1718" stroke-width="1.8" stroke-dasharray="11.1 11.1"/>
<line x1="983.7" y1="885.9" x2="983.7" y2="1139.5" stroke="#1b1718" stroke-width="1.8" stroke-dasharray="11.1 11.1"/>
<text x="794.6" y="875.4" font-size="17.5" text-anchor="start" fill="#1b1718" textLength="52.4" lengthAdjust="spacingAndGlyphs" ><tspan >(</tspan><tspan font-style="italic">S</tspan><tspan >)-</tspan><tspan font-weight="bold">6a</tspan></text>
<text x="873.0" y="875.4" font-size="17.5" text-anchor="start" fill="#1b1718" textLength="52.4" lengthAdjust="spacingAndGlyphs" ><tspan >(</tspan><tspan font-style="italic">S</tspan><tspan >)-</tspan><tspan font-weight="bold">7a</tspan></text>
<text x="947.2" y="875.4" font-size="17.5" text-anchor="start" fill="#1b1718" textLength="86.8" lengthAdjust="spacingAndGlyphs" ><tspan >Rotundine</tspan></text>
<line x1="694.60" y1="1139.50" x2="1048.40" y2="1139.50" stroke="#999" stroke-width="1.0" />
<line x1="694.60" y1="1139.50" x2="694.60" y2="1142.80" stroke="#222" stroke-width="1.0" />
<text x="698.6" y="1168.8" font-size="19" text-anchor="middle" fill="#1b1718" ><tspan >12</tspan></text>
<line x1="765.36" y1="1139.50" x2="765.36" y2="1142.80" stroke="#222" stroke-width="1.0" />
<text x="767.0" y="1168.8" font-size="19" text-anchor="middle" fill="#1b1718" ><tspan >14</tspan></text>
<line x1="836.12" y1="1139.50" x2="836.12" y2="1142.80" stroke="#222" stroke-width="1.0" />
<text x="836.7" y="1168.8" font-size="19" text-anchor="middle" fill="#1b1718" ><tspan >16</tspan></text>
<line x1="906.88" y1="1139.50" x2="906.88" y2="1142.80" stroke="#222" stroke-width="1.0" />
<text x="907.6" y="1168.8" font-size="19" text-anchor="middle" fill="#1b1718" ><tspan >18</tspan></text>
<line x1="977.64" y1="1139.50" x2="977.64" y2="1142.80" stroke="#222" stroke-width="1.0" />
<text x="978.5" y="1168.8" font-size="19" text-anchor="middle" fill="#1b1718" ><tspan >20</tspan></text>
<line x1="1048.40" y1="1139.50" x2="1048.40" y2="1142.80" stroke="#222" stroke-width="1.0" />
<text x="1048.0" y="1168.8" font-size="19" text-anchor="middle" fill="#1b1718" ><tspan >22</tspan></text>
<text x="837.8" y="1187.4" font-size="17.5" text-anchor="start" fill="#1b1718" textLength="85.6" lengthAdjust="spacingAndGlyphs" ><tspan >Time(min)</tspan></text>
<text x="1061.3" y="935.3" font-size="18.5" text-anchor="start" fill="#1b1718" textLength="166.1" lengthAdjust="spacingAndGlyphs" ><tspan >(</tspan><tspan font-style="italic">S</tspan><tspan >)-</tspan><tspan font-weight="bold">6a</tspan><tspan >+</tspan><tspan font-style="italic">Tf</tspan><tspan >S9OMT</tspan><tspan font-size="10.7" dy="-6.3">WT</tspan></text>
<text x="1061.3" y="1006.1" font-size="18.5" text-anchor="start" fill="#1b1718" textLength="157.9" lengthAdjust="spacingAndGlyphs" ><tspan >(</tspan><tspan font-style="italic">S</tspan><tspan >)-</tspan><tspan font-weight="bold">6a</tspan><tspan >+</tspan><tspan font-style="italic">Tf</tspan><tspan >S9OMT</tspan><tspan font-size="10.7" dy="-6.3">M</tspan></text>
<text x="1060.0" y="1069.7" font-size="18.5" text-anchor="start" fill="#1b1718" textLength="133.7" lengthAdjust="spacingAndGlyphs" ><tspan >(</tspan><tspan font-style="italic">S</tspan><tspan >)-</tspan><tspan font-weight="bold">6a</tspan><tspan > standard</tspan></text>
<text x="1060.0" y="1138.9" font-size="18.5" text-anchor="start" fill="#1b1718" textLength="169.0" lengthAdjust="spacingAndGlyphs" ><tspan >Rotundine standard</tspan></text>
<rect x="964.5" y="988.4" width="39.5" height="28.8" fill="none" stroke="#b82537" stroke-width="1.8"/>
<polygon points="1009.10,979.00 1010.51,982.56 1014.33,982.80 1011.38,985.24 1012.33,988.95 1009.10,986.90 1005.87,988.95 1006.82,985.24 1003.87,982.80 1007.69,982.56" fill="#e3061a" />
<rect x="1087.3" y="866.3" width="60.6" height="46.1" fill="none" stroke="#b82537" stroke-width="1.8"/>
<polygon points="1156.90,851.10 1159.43,856.82 1165.65,857.46 1160.99,861.63 1162.31,867.74 1156.90,864.60 1151.49,867.74 1152.81,861.63 1148.15,857.46 1154.37,856.82" fill="#e3061a" />
<text x="1091.7" y="884.9" font-size="17.5" text-anchor="start" fill="#1b1718" textLength="53.0" lengthAdjust="spacingAndGlyphs" ><tspan >(</tspan><tspan font-style="italic">S</tspan><tspan >)-</tspan><tspan font-weight="bold">8a</tspan></text>
<polyline points="1092.00,908.30 1099.70,908.30 1100.20,908.30 1100.70,908.30 1101.20,908.29 1101.70,908.29 1102.20,908.28 1102.70,908.26 1103.20,908.23 1103.70,908.20 1104.20,908.14 1104.70,908.06 1105.20,907.96 1105.70,907.81 1106.20,907.63 1106.70,907.40 1107.20,907.13 1107.70,906.82 1108.20,906.48 1108.70,906.12 1109.20,905.76 1109.70,905.42 1110.20,905.12 1110.60,904.93 1110.70,904.89 1111.10,904.77 1111.20,904.75 1111.60,904.70 1111.70,904.70 1112.10,904.74 1112.20,904.77 1112.60,904.91 1112.70,904.96 1113.10,905.19 1113.20,905.25 1113.60,905.54 1113.70,905.62 1114.10,905.95 1114.20,906.03 1114.60,906.36 1114.70,906.45 1115.10,906.76 1115.20,906.84 1115.60,907.12 1115.70,907.18 1116.10,907.41 1116.20,907.47 1116.60,907.64 1116.70,907.68 1117.10,907.80 1117.20,907.82 1117.60,907.88 1117.70,907.89 1118.10,907.88 1118.20,907.88 1118.60,907.81 1118.70,907.78 1119.10,907.63 1119.20,907.58 1119.60,907.35 1119.70,907.28 1120.10,906.95 1120.20,906.85 1120.60,906.40 1120.70,906.27 1121.10,905.70 1121.20,905.55 1121.60,904.86 1121.70,904.67 1122.10,903.87 1122.20,903.66 1122.60,902.78 1122.70,902.56 1123.10,901.64 1123.20,901.41 1123.60,900.52 1123.70,900.30 1124.10,899.48 1124.60,898.63 1125.10,898.03 1125.60,897.73 1126.10,897.73 1126.60,897.93 1127.10,898.30 1127.60,898.82 1128.10,899.47 1128.60,900.22 1129.10,901.03 1129.60,901.87 1130.10,902.71 1130.60,903.53 1131.10,904.29 1131.60,904.99 1132.10,905.62 1132.60,906.16 1133.10,906.63 1133.60,907.01 1134.10,907.32 1134.60,907.57 1135.10,907.77 1135.60,907.92 1136.10,908.03 1136.60,908.11 1137.10,908.17 1137.60,908.21 1138.10,908.24 1138.60,908.26 1139.10,908.28 1139.60,908.29 1140.10,908.29 1140.60,908.29 1143.10,908.30" fill="none" stroke="#1b1718" stroke-width="1.8" stroke-linejoin="miter" stroke-linejoin="round"/>
<line x1="1148.70" y1="889.10" x2="1138.50" y2="894.50" stroke="#1b1718" stroke-width="1.5" />
<polygon points="1132.90,897.50 1136.00,889.20 1142.00,897.00" fill="#1b1718" />
</svg></body></html>
